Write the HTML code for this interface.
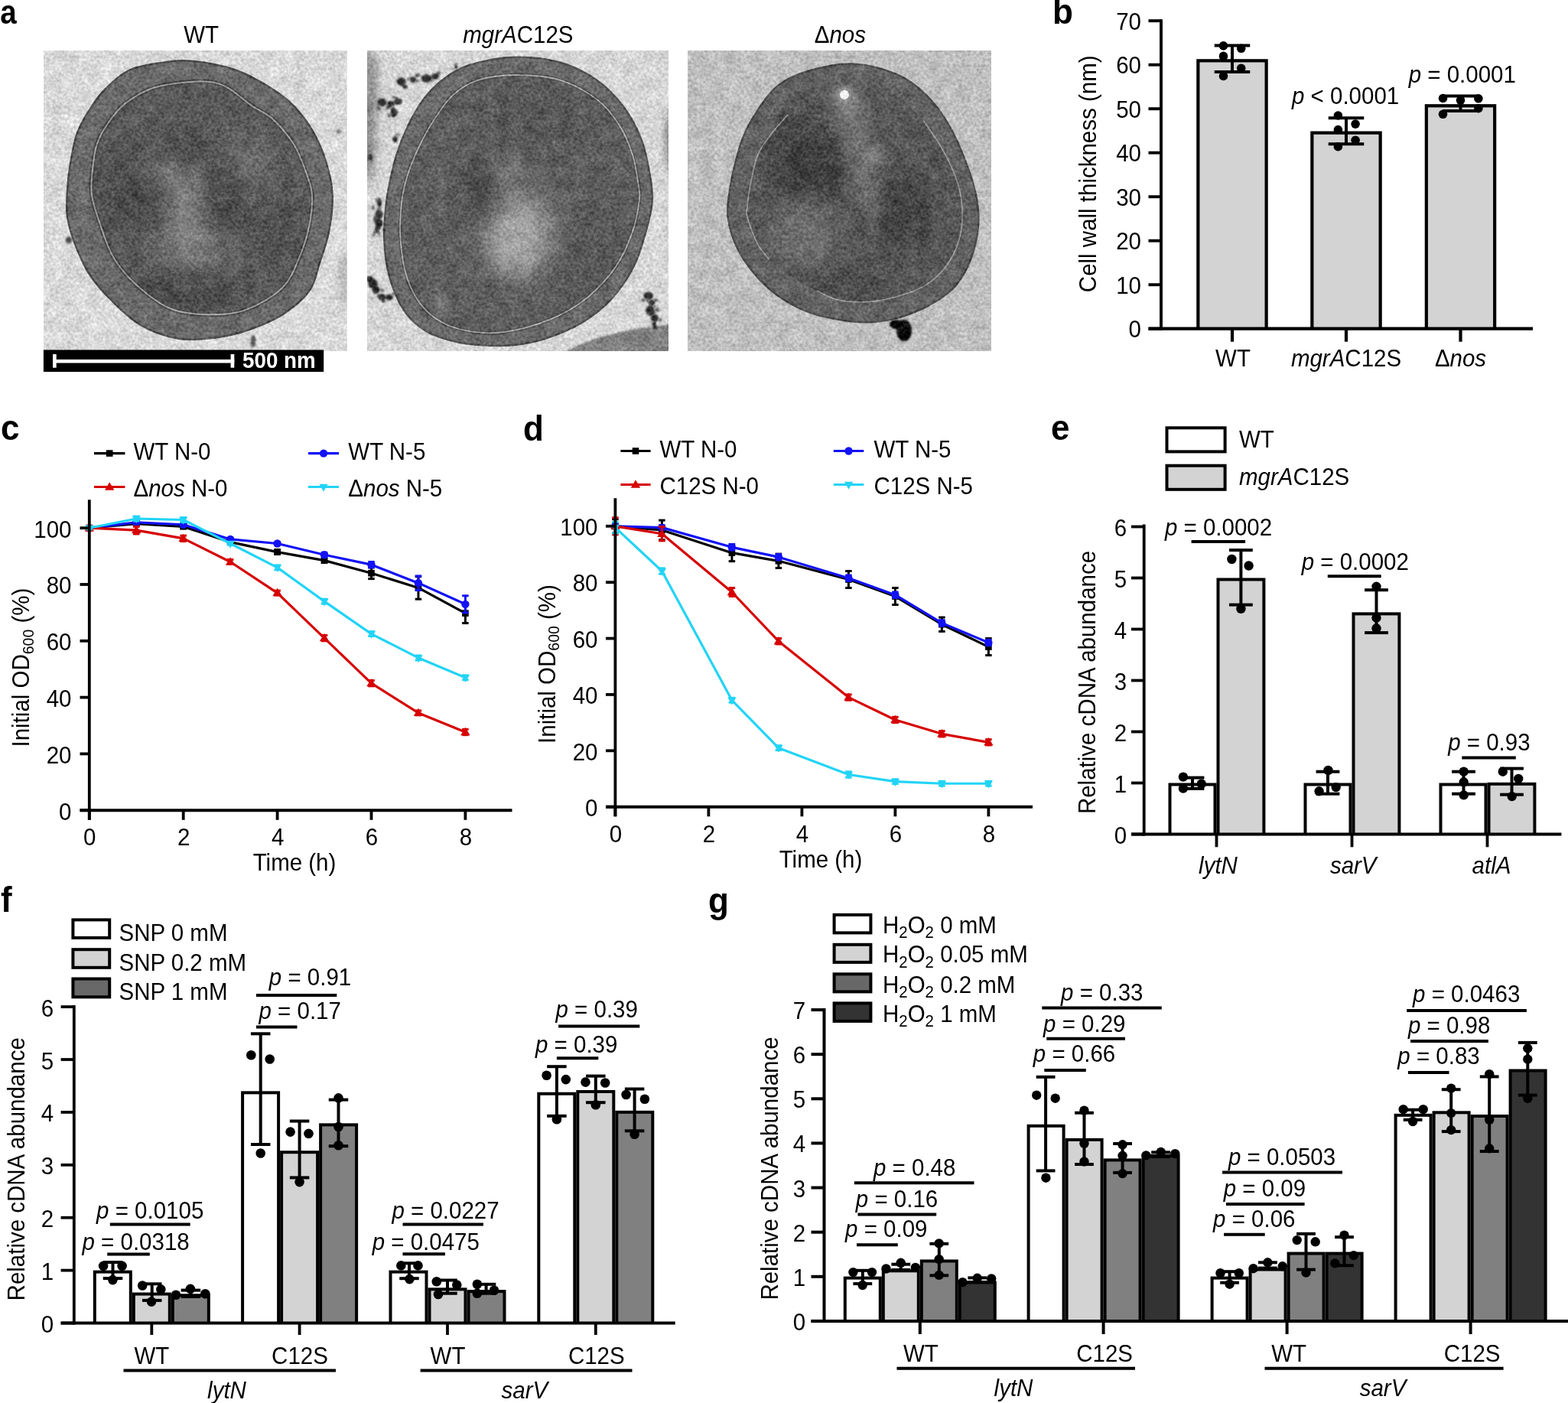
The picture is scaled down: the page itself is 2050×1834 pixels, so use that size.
<!DOCTYPE html><html><head><meta charset="utf-8"><title>Figure</title><style>html,body{margin:0;padding:0;background:#fff;overflow:hidden;width:2050px;height:1834px;}svg{display:block;}</style></head><body><svg width="2050" height="1834" viewBox="0 0 2050 1834" font-family="'Liberation Sans', Arial, sans-serif" font-size="29.5"><defs>
<filter id="tex" x="0" y="0" width="100%" height="100%" color-interpolation-filters="sRGB">
  <feTurbulence type="fractalNoise" baseFrequency="0.26" numOctaves="2" seed="7" result="n"/>
  <feColorMatrix in="n" type="matrix" values="1 0 0 0 0  1 0 0 0 0  1 0 0 0 0  0 0 0 0 1" result="ng"/>
  <feTurbulence type="fractalNoise" baseFrequency="0.06" numOctaves="2" seed="11" result="m"/>
  <feColorMatrix in="m" type="matrix" values="0 1 0 0 0  0 1 0 0 0  0 1 0 0 0  0 0 0 0 1" result="mg"/>
  <feComposite in="ng" in2="mg" operator="arithmetic" k1="0" k2="1" k3="0.5" k4="-0.25" result="nm"/>
  <feComposite in="SourceGraphic" in2="nm" operator="arithmetic" k1="0" k2="1" k3="0.32" k4="-0.16"/>
</filter>
<filter id="b6" x="-50%" y="-50%" width="200%" height="200%"><feGaussianBlur stdDeviation="6"/></filter>
<filter id="b12" x="-50%" y="-50%" width="200%" height="200%"><feGaussianBlur stdDeviation="12"/></filter>
<filter id="b20" x="-50%" y="-50%" width="200%" height="200%"><feGaussianBlur stdDeviation="20"/></filter>
<filter id="b2" x="-50%" y="-50%" width="200%" height="200%"><feGaussianBlur stdDeviation="1.2"/></filter>
<clipPath id="c1"><rect x="57" y="66" width="396.5" height="393"/></clipPath>
<clipPath id="c2"><rect x="480" y="66" width="394" height="393"/></clipPath>
<clipPath id="c3"><rect x="899" y="66" width="397" height="393"/></clipPath>
<clipPath id="ci1"><path d="M261,106.4 C245.65,106.58 218.95,109.35 202.7,114.2 C186.45,119.05 173.77,127.65 163.5,135.5 C153.23,143.35 147.27,152.33 141.1,161.3 C134.93,170.27 129.87,179.02 126.5,189.3 C123.13,199.58 121.98,212.05 120.9,223 C119.82,233.95 118.28,243.17 120,255 C121.72,266.83 126.42,280.33 131.2,294 C135.98,307.67 140.9,323.98 148.7,337 C156.5,350.02 165.63,361.03 178,372.1 C190.37,383.17 207.28,396.88 222.9,403.4 C238.52,409.92 255.43,410.88 271.7,411.2 C287.97,411.52 304.23,411.17 320.5,405.3 C336.77,399.43 357.27,388.03 369.3,376 C381.33,363.97 386.83,346.77 392.7,333.1 C398.57,319.43 401.95,307.02 404.5,294 C407.05,280.98 408.53,265.9 408,255 C407.47,244.1 405.22,239.55 401.3,228.6 C397.38,217.65 391.97,201.45 384.5,189.3 C377.03,177.15 365.83,164.3 356.5,155.7 C347.17,147.1 338.78,144.8 328.5,137.7 C318.22,130.6 306.05,118.32 294.8,113.1 C283.55,107.88 276.35,106.22 261,106.4Z"/></clipPath><clipPath id="ci2"><path d="M673.7,98 C655.95,98 638.85,100.35 625.3,104.7 C611.75,109.05 602.08,115.38 592.4,124.1 C582.72,132.82 574.63,145.7 567.2,157 C559.77,168.3 553.62,179.62 547.8,191.9 C541.98,204.18 536.1,218.52 532.3,230.7 C528.5,242.88 526.45,251.27 525,265 C523.55,278.73 522.38,296.68 523.6,313.1 C524.82,329.52 527.3,348.65 532.3,363.5 C537.3,378.35 544.57,391.87 553.6,402.2 C562.63,412.53 572.93,420 586.5,425.5 C600.07,431 618.85,434.57 635,435.2 C651.15,435.83 667.27,433.18 683.4,429.3 C699.53,425.42 717.27,419 731.8,411.9 C746.33,404.8 758.32,397.35 770.6,386.7 C782.88,376.05 796.13,361.88 805.5,348 C814.87,334.12 821.75,317.73 826.8,303.4 C831.85,289.07 834.52,272.52 835.8,262 C837.08,251.48 836,250.37 834.5,240.3 C833,230.23 831,214.5 826.8,201.6 C822.6,188.7 817.05,174.85 809.3,162.9 C801.55,150.95 793.22,139.6 780.3,129.9 C767.38,120.2 749.57,110.02 731.8,104.7 C714.03,99.38 691.45,98 673.7,98Z"/></clipPath><clipPath id="ci3"><path d="M1113.7,110 C1092.13,110.43 1053.17,113.72 1035.6,124.6 C1018.03,135.48 1015.78,162.3 1008.3,175.3 C1000.82,188.3 995.25,191.53 990.7,202.6 C986.15,213.67 983.27,230.47 981,241.7 C978.73,252.93 977.75,262.9 977.1,270 C976.45,277.1 974.83,276.07 977.1,284.3 C979.37,292.53 985.98,310.3 990.7,319.4 C995.42,328.5 998.02,331.8 1005.4,338.9 C1012.78,346 1024.1,354.83 1035,362 C1045.9,369.17 1060.93,376.97 1070.8,381.9 C1080.67,386.83 1083.8,389.48 1094.2,391.6 C1104.6,393.72 1120.18,395.25 1133.2,394.6 C1146.22,393.95 1159.28,391.45 1172.3,387.7 C1185.32,383.95 1199.92,379.58 1211.3,372.1 C1222.68,364.62 1233.12,354.18 1240.6,342.8 C1248.08,331.42 1253.47,317.27 1256.2,303.8 C1258.93,290.33 1258.37,274.63 1257,262 C1255.63,249.37 1252.37,239.52 1248,228 C1243.63,216.48 1237.57,204.62 1230.8,192.9 C1224.03,181.18 1218.37,169.52 1207.4,157.7 C1196.43,145.88 1180.62,129.95 1165,122 C1149.38,114.05 1135.27,109.57 1113.7,110Z"/></clipPath></defs><rect width="2050" height="1834" fill="#fff"/><text transform="translate(0.2 31.4) scale(0.875 1.011)" font-size="44" font-weight="bold">a</text>
<text transform="translate(1376 31) scale(1 1.04)" font-size="44" font-weight="bold">b</text>
<text transform="translate(1 574.5) scale(1 1.04)" font-size="44" font-weight="bold">c</text>
<text transform="translate(684 575.5) scale(1 1.04)" font-size="44" font-weight="bold">d</text>
<text transform="translate(1374 574.5) scale(1 1.04)" font-size="44" font-weight="bold">e</text>
<text transform="translate(1 1192) scale(1 1.04)" font-size="44" font-weight="bold">f</text>
<text transform="translate(926 1192.5) scale(1 1.04)" font-size="44" font-weight="bold">g</text>
<rect x="1564.25" y="77.23" width="93.5" height="352.47" fill="#000"/>
<rect x="1568.45" y="81.43" width="85.1" height="348.27" fill="#d3d3d3"/>
<rect x="1713.25" y="171.52" width="93.5" height="258.18" fill="#000"/>
<rect x="1717.45" y="175.72" width="85.1" height="253.98" fill="#d3d3d3"/>
<rect x="1862.75" y="136.16" width="93.5" height="293.54" fill="#000"/>
<rect x="1866.95" y="140.36" width="85.1" height="289.34" fill="#d3d3d3"/>
<line x1="1611" y1="93.9" x2="1611" y2="59.4" stroke="#000" stroke-width="4"/>
<line x1="1587.75" y1="93.9" x2="1634.25" y2="93.9" stroke="#000" stroke-width="4"/>
<line x1="1587.75" y1="59.4" x2="1634.25" y2="59.4" stroke="#000" stroke-width="4"/>
<line x1="1760" y1="188.2" x2="1760" y2="154.27" stroke="#000" stroke-width="4"/>
<line x1="1736.75" y1="188.2" x2="1783.25" y2="188.2" stroke="#000" stroke-width="4"/>
<line x1="1736.75" y1="154.27" x2="1783.25" y2="154.27" stroke="#000" stroke-width="4"/>
<line x1="1909.5" y1="145.07" x2="1909.5" y2="125.52" stroke="#000" stroke-width="4"/>
<line x1="1886.25" y1="145.07" x2="1932.75" y2="145.07" stroke="#000" stroke-width="4"/>
<line x1="1886.25" y1="125.52" x2="1932.75" y2="125.52" stroke="#000" stroke-width="4"/>
<circle cx="1599.5" cy="59.9" r="5.8" fill="#000"/>
<circle cx="1622.7" cy="63.3" r="5.8" fill="#000"/>
<circle cx="1599.5" cy="73.4" r="5.8" fill="#000"/>
<circle cx="1622.7" cy="89.2" r="5.8" fill="#000"/>
<circle cx="1599.5" cy="99.5" r="5.8" fill="#000"/>
<circle cx="1749.4" cy="151" r="5.8" fill="#000"/>
<circle cx="1772.1" cy="162.1" r="5.8" fill="#000"/>
<circle cx="1749.4" cy="169.6" r="5.8" fill="#000"/>
<circle cx="1772.1" cy="183.2" r="5.8" fill="#000"/>
<circle cx="1749.4" cy="191.7" r="5.8" fill="#000"/>
<circle cx="1886.5" cy="128.5" r="5.8" fill="#000"/>
<circle cx="1909.5" cy="131.1" r="5.8" fill="#000"/>
<circle cx="1932.9" cy="128.8" r="5.8" fill="#000"/>
<circle cx="1932.9" cy="141.7" r="5.8" fill="#000"/>
<circle cx="1886.5" cy="149.3" r="5.8" fill="#000"/>
<line x1="1518" y1="25.2" x2="1518" y2="431.7" stroke="#000" stroke-width="3.9"/>
<line x1="1501.5" y1="429.7" x2="2004" y2="429.7" stroke="#000" stroke-width="4.2"/>
<line x1="1501.5" y1="429.7" x2="1518" y2="429.7" stroke="#000" stroke-width="3.9"/>
<text transform="translate(1492 441.1) scale(1 1.04)" text-anchor="end">0</text>
<line x1="1501.5" y1="372.2" x2="1518" y2="372.2" stroke="#000" stroke-width="3.9"/>
<text transform="translate(1492 383.6) scale(1 1.04)" text-anchor="end">10</text>
<line x1="1501.5" y1="314.7" x2="1518" y2="314.7" stroke="#000" stroke-width="3.9"/>
<text transform="translate(1492 326.1) scale(1 1.04)" text-anchor="end">20</text>
<line x1="1501.5" y1="257.2" x2="1518" y2="257.2" stroke="#000" stroke-width="3.9"/>
<text transform="translate(1492 268.6) scale(1 1.04)" text-anchor="end">30</text>
<line x1="1501.5" y1="199.7" x2="1518" y2="199.7" stroke="#000" stroke-width="3.9"/>
<text transform="translate(1492 211.1) scale(1 1.04)" text-anchor="end">40</text>
<line x1="1501.5" y1="142.2" x2="1518" y2="142.2" stroke="#000" stroke-width="3.9"/>
<text transform="translate(1492 153.6) scale(1 1.04)" text-anchor="end">50</text>
<line x1="1501.5" y1="84.7" x2="1518" y2="84.7" stroke="#000" stroke-width="3.9"/>
<text transform="translate(1492 96.1) scale(1 1.04)" text-anchor="end">60</text>
<line x1="1501.5" y1="27.2" x2="1518" y2="27.2" stroke="#000" stroke-width="3.9"/>
<text transform="translate(1492 38.6) scale(1 1.04)" text-anchor="end">70</text>
<line x1="1611" y1="429.7" x2="1611" y2="446.7" stroke="#000" stroke-width="4.2"/>
<line x1="1760" y1="429.7" x2="1760" y2="446.7" stroke="#000" stroke-width="4.2"/>
<line x1="1909.5" y1="429.7" x2="1909.5" y2="446.7" stroke="#000" stroke-width="4.2"/>
<text transform="translate(1612 478.5) scale(1 1.04)" text-anchor="middle">WT</text>
<text transform="translate(1760 478.5) scale(1 1.04)" text-anchor="middle"><tspan font-style="italic">mgrA</tspan>C12S</text>
<text transform="translate(1909.5 478.5) scale(1 1.04)" text-anchor="middle">Δ<tspan font-style="italic">nos</tspan></text>
<text transform="translate(1433 227.3) rotate(-90) scale(1 1.04)" text-anchor="middle">Cell wall thickness (nm)</text>
<text transform="translate(1689 135.5) scale(1 1.04)"><tspan font-style="italic">p</tspan> &lt; 0.0001</text>
<text transform="translate(1841.7 107.9) scale(1 1.04)"><tspan font-style="italic">p</tspan> = 0.0001</text>
<polyline points="116.8,690.2 178.25,684.67 239.7,688.36 301.15,708.65 362.6,721.57 424.05,732.63 485.5,749.24 546.95,768.43 608.4,801.64" fill="none" stroke="#000" stroke-width="3.2" stroke-linejoin="round"/>
<line x1="178.25" y1="686.51" x2="178.25" y2="682.82" stroke="#000" stroke-width="3"/>
<line x1="174" y1="682.82" x2="182.5" y2="682.82" stroke="#000" stroke-width="3"/>
<line x1="174" y1="686.51" x2="182.5" y2="686.51" stroke="#000" stroke-width="3"/>
<line x1="239.7" y1="690.2" x2="239.7" y2="686.51" stroke="#000" stroke-width="3"/>
<line x1="235.45" y1="686.51" x2="243.95" y2="686.51" stroke="#000" stroke-width="3"/>
<line x1="235.45" y1="690.2" x2="243.95" y2="690.2" stroke="#000" stroke-width="3"/>
<line x1="301.15" y1="710.5" x2="301.15" y2="706.81" stroke="#000" stroke-width="3"/>
<line x1="296.9" y1="706.81" x2="305.4" y2="706.81" stroke="#000" stroke-width="3"/>
<line x1="296.9" y1="710.5" x2="305.4" y2="710.5" stroke="#000" stroke-width="3"/>
<line x1="362.6" y1="724.52" x2="362.6" y2="718.61" stroke="#000" stroke-width="3"/>
<line x1="358.35" y1="718.61" x2="366.85" y2="718.61" stroke="#000" stroke-width="3"/>
<line x1="358.35" y1="724.52" x2="366.85" y2="724.52" stroke="#000" stroke-width="3"/>
<line x1="424.05" y1="735.59" x2="424.05" y2="729.68" stroke="#000" stroke-width="3"/>
<line x1="419.8" y1="729.68" x2="428.3" y2="729.68" stroke="#000" stroke-width="3"/>
<line x1="419.8" y1="735.59" x2="428.3" y2="735.59" stroke="#000" stroke-width="3"/>
<line x1="485.5" y1="756.62" x2="485.5" y2="741.86" stroke="#000" stroke-width="3"/>
<line x1="481.25" y1="741.86" x2="489.75" y2="741.86" stroke="#000" stroke-width="3"/>
<line x1="481.25" y1="756.62" x2="489.75" y2="756.62" stroke="#000" stroke-width="3"/>
<line x1="546.95" y1="783.19" x2="546.95" y2="753.67" stroke="#000" stroke-width="3"/>
<line x1="542.7" y1="753.67" x2="551.2" y2="753.67" stroke="#000" stroke-width="3"/>
<line x1="542.7" y1="783.19" x2="551.2" y2="783.19" stroke="#000" stroke-width="3"/>
<line x1="608.4" y1="814.55" x2="608.4" y2="788.72" stroke="#000" stroke-width="3"/>
<line x1="604.15" y1="788.72" x2="612.65" y2="788.72" stroke="#000" stroke-width="3"/>
<line x1="604.15" y1="814.55" x2="612.65" y2="814.55" stroke="#000" stroke-width="3"/>
<rect x="112.5" y="685.9" width="8.6" height="8.6" fill="#000"/>
<rect x="173.95" y="680.37" width="8.6" height="8.6" fill="#000"/>
<rect x="235.4" y="684.06" width="8.6" height="8.6" fill="#000"/>
<rect x="296.85" y="704.35" width="8.6" height="8.6" fill="#000"/>
<rect x="358.3" y="717.27" width="8.6" height="8.6" fill="#000"/>
<rect x="419.75" y="728.34" width="8.6" height="8.6" fill="#000"/>
<rect x="481.2" y="744.94" width="8.6" height="8.6" fill="#000"/>
<rect x="542.65" y="764.13" width="8.6" height="8.6" fill="#000"/>
<rect x="604.1" y="797.34" width="8.6" height="8.6" fill="#000"/>
<polyline points="116.8,690.2 178.25,682.82 239.7,685.77 301.15,704.96 362.6,710.5 424.05,725.26 485.5,738.17 546.95,762.15 608.4,789.83" fill="none" stroke="#1212f5" stroke-width="3.2" stroke-linejoin="round"/>
<line x1="178.25" y1="684.67" x2="178.25" y2="680.98" stroke="#1212f5" stroke-width="3"/>
<line x1="174" y1="680.98" x2="182.5" y2="680.98" stroke="#1212f5" stroke-width="3"/>
<line x1="174" y1="684.67" x2="182.5" y2="684.67" stroke="#1212f5" stroke-width="3"/>
<line x1="239.7" y1="687.62" x2="239.7" y2="683.93" stroke="#1212f5" stroke-width="3"/>
<line x1="235.45" y1="683.93" x2="243.95" y2="683.93" stroke="#1212f5" stroke-width="3"/>
<line x1="235.45" y1="687.62" x2="243.95" y2="687.62" stroke="#1212f5" stroke-width="3"/>
<line x1="301.15" y1="706.81" x2="301.15" y2="703.12" stroke="#1212f5" stroke-width="3"/>
<line x1="296.9" y1="703.12" x2="305.4" y2="703.12" stroke="#1212f5" stroke-width="3"/>
<line x1="296.9" y1="706.81" x2="305.4" y2="706.81" stroke="#1212f5" stroke-width="3"/>
<line x1="362.6" y1="712.34" x2="362.6" y2="708.65" stroke="#1212f5" stroke-width="3"/>
<line x1="358.35" y1="708.65" x2="366.85" y2="708.65" stroke="#1212f5" stroke-width="3"/>
<line x1="358.35" y1="712.34" x2="366.85" y2="712.34" stroke="#1212f5" stroke-width="3"/>
<line x1="424.05" y1="728.21" x2="424.05" y2="722.3" stroke="#1212f5" stroke-width="3"/>
<line x1="419.8" y1="722.3" x2="428.3" y2="722.3" stroke="#1212f5" stroke-width="3"/>
<line x1="419.8" y1="728.21" x2="428.3" y2="728.21" stroke="#1212f5" stroke-width="3"/>
<line x1="485.5" y1="741.86" x2="485.5" y2="734.48" stroke="#1212f5" stroke-width="3"/>
<line x1="481.25" y1="734.48" x2="489.75" y2="734.48" stroke="#1212f5" stroke-width="3"/>
<line x1="481.25" y1="741.86" x2="489.75" y2="741.86" stroke="#1212f5" stroke-width="3"/>
<line x1="546.95" y1="771.38" x2="546.95" y2="752.93" stroke="#1212f5" stroke-width="3"/>
<line x1="542.7" y1="752.93" x2="551.2" y2="752.93" stroke="#1212f5" stroke-width="3"/>
<line x1="542.7" y1="771.38" x2="551.2" y2="771.38" stroke="#1212f5" stroke-width="3"/>
<line x1="608.4" y1="800.9" x2="608.4" y2="778.76" stroke="#1212f5" stroke-width="3"/>
<line x1="604.15" y1="778.76" x2="612.65" y2="778.76" stroke="#1212f5" stroke-width="3"/>
<line x1="604.15" y1="800.9" x2="612.65" y2="800.9" stroke="#1212f5" stroke-width="3"/>
<circle cx="116.8" cy="690.2" r="5.2" fill="#1212f5"/>
<circle cx="178.25" cy="682.82" r="5.2" fill="#1212f5"/>
<circle cx="239.7" cy="685.77" r="5.2" fill="#1212f5"/>
<circle cx="301.15" cy="704.96" r="5.2" fill="#1212f5"/>
<circle cx="362.6" cy="710.5" r="5.2" fill="#1212f5"/>
<circle cx="424.05" cy="725.26" r="5.2" fill="#1212f5"/>
<circle cx="485.5" cy="738.17" r="5.2" fill="#1212f5"/>
<circle cx="546.95" cy="762.15" r="5.2" fill="#1212f5"/>
<circle cx="608.4" cy="789.83" r="5.2" fill="#1212f5"/>
<polyline points="116.8,690.2 178.25,693.15 239.7,703.85 301.15,734.48 362.6,775.07 424.05,834.11 485.5,893.15 546.95,931.9 608.4,956.99" fill="none" stroke="#d60000" stroke-width="3.2" stroke-linejoin="round"/>
<line x1="116.8" y1="693.15" x2="116.8" y2="687.25" stroke="#d60000" stroke-width="3"/>
<line x1="112.55" y1="687.25" x2="121.05" y2="687.25" stroke="#d60000" stroke-width="3"/>
<line x1="112.55" y1="693.15" x2="121.05" y2="693.15" stroke="#d60000" stroke-width="3"/>
<line x1="178.25" y1="697.95" x2="178.25" y2="688.36" stroke="#d60000" stroke-width="3"/>
<line x1="174" y1="688.36" x2="182.5" y2="688.36" stroke="#d60000" stroke-width="3"/>
<line x1="174" y1="697.95" x2="182.5" y2="697.95" stroke="#d60000" stroke-width="3"/>
<line x1="239.7" y1="707.54" x2="239.7" y2="700.16" stroke="#d60000" stroke-width="3"/>
<line x1="235.45" y1="700.16" x2="243.95" y2="700.16" stroke="#d60000" stroke-width="3"/>
<line x1="235.45" y1="707.54" x2="243.95" y2="707.54" stroke="#d60000" stroke-width="3"/>
<line x1="301.15" y1="737.43" x2="301.15" y2="731.53" stroke="#d60000" stroke-width="3"/>
<line x1="296.9" y1="731.53" x2="305.4" y2="731.53" stroke="#d60000" stroke-width="3"/>
<line x1="296.9" y1="737.43" x2="305.4" y2="737.43" stroke="#d60000" stroke-width="3"/>
<line x1="362.6" y1="778.02" x2="362.6" y2="772.12" stroke="#d60000" stroke-width="3"/>
<line x1="358.35" y1="772.12" x2="366.85" y2="772.12" stroke="#d60000" stroke-width="3"/>
<line x1="358.35" y1="778.02" x2="366.85" y2="778.02" stroke="#d60000" stroke-width="3"/>
<line x1="424.05" y1="837.8" x2="424.05" y2="830.42" stroke="#d60000" stroke-width="3"/>
<line x1="419.8" y1="830.42" x2="428.3" y2="830.42" stroke="#d60000" stroke-width="3"/>
<line x1="419.8" y1="837.8" x2="428.3" y2="837.8" stroke="#d60000" stroke-width="3"/>
<line x1="485.5" y1="896.84" x2="485.5" y2="889.46" stroke="#d60000" stroke-width="3"/>
<line x1="481.25" y1="889.46" x2="489.75" y2="889.46" stroke="#d60000" stroke-width="3"/>
<line x1="481.25" y1="896.84" x2="489.75" y2="896.84" stroke="#d60000" stroke-width="3"/>
<line x1="546.95" y1="934.85" x2="546.95" y2="928.94" stroke="#d60000" stroke-width="3"/>
<line x1="542.7" y1="928.94" x2="551.2" y2="928.94" stroke="#d60000" stroke-width="3"/>
<line x1="542.7" y1="934.85" x2="551.2" y2="934.85" stroke="#d60000" stroke-width="3"/>
<line x1="608.4" y1="960.68" x2="608.4" y2="953.3" stroke="#d60000" stroke-width="3"/>
<line x1="604.15" y1="953.3" x2="612.65" y2="953.3" stroke="#d60000" stroke-width="3"/>
<line x1="604.15" y1="960.68" x2="612.65" y2="960.68" stroke="#d60000" stroke-width="3"/>
<polygon points="116.8,684 123,694.4 110.6,694.4" fill="#d60000"/>
<polygon points="178.25,686.95 184.45,697.35 172.05,697.35" fill="#d60000"/>
<polygon points="239.7,697.65 245.9,708.05 233.5,708.05" fill="#d60000"/>
<polygon points="301.15,728.28 307.35,738.68 294.95,738.68" fill="#d60000"/>
<polygon points="362.6,768.87 368.8,779.27 356.4,779.27" fill="#d60000"/>
<polygon points="424.05,827.91 430.25,838.31 417.85,838.31" fill="#d60000"/>
<polygon points="485.5,886.95 491.7,897.35 479.3,897.35" fill="#d60000"/>
<polygon points="546.95,925.7 553.15,936.1 540.75,936.1" fill="#d60000"/>
<polygon points="608.4,950.79 614.6,961.19 602.2,961.19" fill="#d60000"/>
<polyline points="116.8,690.2 178.25,678.02 239.7,679.5 301.15,710.5 362.6,741.86 424.05,786.14 485.5,828.58 546.95,859.94 608.4,885.77" fill="none" stroke="#22d4f6" stroke-width="3.2" stroke-linejoin="round"/>
<line x1="116.8" y1="692.05" x2="116.8" y2="688.36" stroke="#22d4f6" stroke-width="3"/>
<line x1="112.55" y1="688.36" x2="121.05" y2="688.36" stroke="#22d4f6" stroke-width="3"/>
<line x1="112.55" y1="692.05" x2="121.05" y2="692.05" stroke="#22d4f6" stroke-width="3"/>
<line x1="178.25" y1="680.98" x2="178.25" y2="675.07" stroke="#22d4f6" stroke-width="3"/>
<line x1="174" y1="675.07" x2="182.5" y2="675.07" stroke="#22d4f6" stroke-width="3"/>
<line x1="174" y1="680.98" x2="182.5" y2="680.98" stroke="#22d4f6" stroke-width="3"/>
<line x1="239.7" y1="682.45" x2="239.7" y2="676.55" stroke="#22d4f6" stroke-width="3"/>
<line x1="235.45" y1="676.55" x2="243.95" y2="676.55" stroke="#22d4f6" stroke-width="3"/>
<line x1="235.45" y1="682.45" x2="243.95" y2="682.45" stroke="#22d4f6" stroke-width="3"/>
<line x1="301.15" y1="712.34" x2="301.15" y2="708.65" stroke="#22d4f6" stroke-width="3"/>
<line x1="296.9" y1="708.65" x2="305.4" y2="708.65" stroke="#22d4f6" stroke-width="3"/>
<line x1="296.9" y1="712.34" x2="305.4" y2="712.34" stroke="#22d4f6" stroke-width="3"/>
<line x1="362.6" y1="744.81" x2="362.6" y2="738.91" stroke="#22d4f6" stroke-width="3"/>
<line x1="358.35" y1="738.91" x2="366.85" y2="738.91" stroke="#22d4f6" stroke-width="3"/>
<line x1="358.35" y1="744.81" x2="366.85" y2="744.81" stroke="#22d4f6" stroke-width="3"/>
<line x1="424.05" y1="789.09" x2="424.05" y2="783.19" stroke="#22d4f6" stroke-width="3"/>
<line x1="419.8" y1="783.19" x2="428.3" y2="783.19" stroke="#22d4f6" stroke-width="3"/>
<line x1="419.8" y1="789.09" x2="428.3" y2="789.09" stroke="#22d4f6" stroke-width="3"/>
<line x1="485.5" y1="831.53" x2="485.5" y2="825.62" stroke="#22d4f6" stroke-width="3"/>
<line x1="481.25" y1="825.62" x2="489.75" y2="825.62" stroke="#22d4f6" stroke-width="3"/>
<line x1="481.25" y1="831.53" x2="489.75" y2="831.53" stroke="#22d4f6" stroke-width="3"/>
<line x1="546.95" y1="862.89" x2="546.95" y2="856.99" stroke="#22d4f6" stroke-width="3"/>
<line x1="542.7" y1="856.99" x2="551.2" y2="856.99" stroke="#22d4f6" stroke-width="3"/>
<line x1="542.7" y1="862.89" x2="551.2" y2="862.89" stroke="#22d4f6" stroke-width="3"/>
<line x1="608.4" y1="888.72" x2="608.4" y2="882.82" stroke="#22d4f6" stroke-width="3"/>
<line x1="604.15" y1="882.82" x2="612.65" y2="882.82" stroke="#22d4f6" stroke-width="3"/>
<line x1="604.15" y1="888.72" x2="612.65" y2="888.72" stroke="#22d4f6" stroke-width="3"/>
<polygon points="116.8,696.4 122.4,686.4 111.2,686.4" fill="#22d4f6"/>
<polygon points="178.25,684.22 183.85,674.22 172.65,674.22" fill="#22d4f6"/>
<polygon points="239.7,685.7 245.3,675.7 234.1,675.7" fill="#22d4f6"/>
<polygon points="301.15,716.7 306.75,706.7 295.55,706.7" fill="#22d4f6"/>
<polygon points="362.6,748.06 368.2,738.06 357,738.06" fill="#22d4f6"/>
<polygon points="424.05,792.34 429.65,782.34 418.45,782.34" fill="#22d4f6"/>
<polygon points="485.5,834.78 491.1,824.78 479.9,824.78" fill="#22d4f6"/>
<polygon points="546.95,866.14 552.55,856.14 541.35,856.14" fill="#22d4f6"/>
<polygon points="608.4,891.97 614,881.97 602.8,881.97" fill="#22d4f6"/>
<line x1="116.8" y1="653.3" x2="116.8" y2="1071.8" stroke="#000" stroke-width="3.8"/>
<line x1="104.5" y1="1059.2" x2="669.5" y2="1059.2" stroke="#000" stroke-width="4"/>
<line x1="104.5" y1="1059.2" x2="116.8" y2="1059.2" stroke="#000" stroke-width="3.8"/>
<text transform="translate(93.5 1071.6) scale(1 1.04)" text-anchor="end">0</text>
<line x1="104.5" y1="985.4" x2="116.8" y2="985.4" stroke="#000" stroke-width="3.8"/>
<text transform="translate(93.5 997.8) scale(1 1.04)" text-anchor="end">20</text>
<line x1="104.5" y1="911.6" x2="116.8" y2="911.6" stroke="#000" stroke-width="3.8"/>
<text transform="translate(93.5 924) scale(1 1.04)" text-anchor="end">40</text>
<line x1="104.5" y1="837.8" x2="116.8" y2="837.8" stroke="#000" stroke-width="3.8"/>
<text transform="translate(93.5 850.2) scale(1 1.04)" text-anchor="end">60</text>
<line x1="104.5" y1="764" x2="116.8" y2="764" stroke="#000" stroke-width="3.8"/>
<text transform="translate(93.5 776.4) scale(1 1.04)" text-anchor="end">80</text>
<line x1="104.5" y1="690.2" x2="116.8" y2="690.2" stroke="#000" stroke-width="3.8"/>
<text transform="translate(93.5 702.6) scale(1 1.04)" text-anchor="end">100</text>
<line x1="116.8" y1="1059.2" x2="116.8" y2="1071.8" stroke="#000" stroke-width="3.8"/>
<text transform="translate(117.3 1105) scale(1 1.04)" text-anchor="middle">0</text>
<line x1="239.7" y1="1059.2" x2="239.7" y2="1071.8" stroke="#000" stroke-width="3.8"/>
<text transform="translate(240.2 1105) scale(1 1.04)" text-anchor="middle">2</text>
<line x1="362.6" y1="1059.2" x2="362.6" y2="1071.8" stroke="#000" stroke-width="3.8"/>
<text transform="translate(363.1 1105) scale(1 1.04)" text-anchor="middle">4</text>
<line x1="485.5" y1="1059.2" x2="485.5" y2="1071.8" stroke="#000" stroke-width="3.8"/>
<text transform="translate(486 1105) scale(1 1.04)" text-anchor="middle">6</text>
<line x1="608.4" y1="1059.2" x2="608.4" y2="1071.8" stroke="#000" stroke-width="3.8"/>
<text transform="translate(608.9 1105) scale(1 1.04)" text-anchor="middle">8</text>
<text transform="translate(385 1138) scale(1 1.04)" text-anchor="middle">Time (h)</text>
<text transform="translate(38 872.6) rotate(-90) scale(1 1.04)" text-anchor="middle">Initial OD<tspan font-size="19.5" dy="5.5">600</tspan><tspan dy="-5.5"> (%)</tspan></text>
<line x1="123" y1="592.6" x2="163.4" y2="592.6" stroke="#000" stroke-width="3.2"/>
<rect x="138.9" y="588.3" width="8.6" height="8.6" fill="#000"/>
<text transform="translate(174.5 601.3) scale(1 1.04)">WT N-0</text>
<line x1="403" y1="592.6" x2="443.1" y2="592.6" stroke="#1212f5" stroke-width="3.2"/>
<circle cx="423.05" cy="592.6" r="5.2" fill="#1212f5"/>
<text transform="translate(455.3 601.3) scale(1 1.04)">WT N-5</text>
<line x1="123" y1="636.5" x2="163.4" y2="636.5" stroke="#d60000" stroke-width="3.2"/>
<polygon points="143.2,630.3 149.4,640.7 137,640.7" fill="#d60000"/>
<text transform="translate(174.5 649.2) scale(1 1.04)">Δ<tspan font-style="italic">nos</tspan> N-0</text>
<line x1="403" y1="636.5" x2="443.1" y2="636.5" stroke="#22d4f6" stroke-width="3.2"/>
<polygon points="423.05,642.7 428.65,632.7 417.45,632.7" fill="#22d4f6"/>
<text transform="translate(455.3 649.2) scale(1 1.04)">Δ<tspan font-style="italic">nos</tspan> N-5</text>
<polyline points="804.4,687.8 865.4,692.94 956.9,722.66 1017.9,733.3 1109.4,757.51 1170.4,779.53 1231.4,816.22 1292.4,845.57" fill="none" stroke="#000" stroke-width="3.2" stroke-linejoin="round"/>
<line x1="804.4" y1="696.97" x2="804.4" y2="678.63" stroke="#000" stroke-width="3"/>
<line x1="800.15" y1="678.63" x2="808.65" y2="678.63" stroke="#000" stroke-width="3"/>
<line x1="800.15" y1="696.97" x2="808.65" y2="696.97" stroke="#000" stroke-width="3"/>
<line x1="865.4" y1="705.78" x2="865.4" y2="680.1" stroke="#000" stroke-width="3"/>
<line x1="861.15" y1="680.1" x2="869.65" y2="680.1" stroke="#000" stroke-width="3"/>
<line x1="861.15" y1="705.78" x2="869.65" y2="705.78" stroke="#000" stroke-width="3"/>
<line x1="956.9" y1="733.66" x2="956.9" y2="711.65" stroke="#000" stroke-width="3"/>
<line x1="952.65" y1="711.65" x2="961.15" y2="711.65" stroke="#000" stroke-width="3"/>
<line x1="952.65" y1="733.66" x2="961.15" y2="733.66" stroke="#000" stroke-width="3"/>
<line x1="1017.9" y1="742.47" x2="1017.9" y2="724.12" stroke="#000" stroke-width="3"/>
<line x1="1013.65" y1="724.12" x2="1022.15" y2="724.12" stroke="#000" stroke-width="3"/>
<line x1="1013.65" y1="742.47" x2="1022.15" y2="742.47" stroke="#000" stroke-width="3"/>
<line x1="1109.4" y1="768.52" x2="1109.4" y2="746.5" stroke="#000" stroke-width="3"/>
<line x1="1105.15" y1="746.5" x2="1113.65" y2="746.5" stroke="#000" stroke-width="3"/>
<line x1="1105.15" y1="768.52" x2="1113.65" y2="768.52" stroke="#000" stroke-width="3"/>
<line x1="1170.4" y1="790.53" x2="1170.4" y2="768.52" stroke="#000" stroke-width="3"/>
<line x1="1166.15" y1="768.52" x2="1174.65" y2="768.52" stroke="#000" stroke-width="3"/>
<line x1="1166.15" y1="790.53" x2="1174.65" y2="790.53" stroke="#000" stroke-width="3"/>
<line x1="1231.4" y1="825.39" x2="1231.4" y2="807.04" stroke="#000" stroke-width="3"/>
<line x1="1227.15" y1="807.04" x2="1235.65" y2="807.04" stroke="#000" stroke-width="3"/>
<line x1="1227.15" y1="825.39" x2="1235.65" y2="825.39" stroke="#000" stroke-width="3"/>
<line x1="1292.4" y1="856.57" x2="1292.4" y2="834.56" stroke="#000" stroke-width="3"/>
<line x1="1288.15" y1="834.56" x2="1296.65" y2="834.56" stroke="#000" stroke-width="3"/>
<line x1="1288.15" y1="856.57" x2="1296.65" y2="856.57" stroke="#000" stroke-width="3"/>
<rect x="800.1" y="683.5" width="8.6" height="8.6" fill="#000"/>
<rect x="861.1" y="688.64" width="8.6" height="8.6" fill="#000"/>
<rect x="952.6" y="718.36" width="8.6" height="8.6" fill="#000"/>
<rect x="1013.6" y="729" width="8.6" height="8.6" fill="#000"/>
<rect x="1105.1" y="753.21" width="8.6" height="8.6" fill="#000"/>
<rect x="1166.1" y="775.23" width="8.6" height="8.6" fill="#000"/>
<rect x="1227.1" y="811.92" width="8.6" height="8.6" fill="#000"/>
<rect x="1288.1" y="841.27" width="8.6" height="8.6" fill="#000"/>
<polyline points="804.4,687.8 865.4,689.63 956.9,715.32 1017.9,728.16 1109.4,755.68 1170.4,777.69 1231.4,814.38 1292.4,840.06" fill="none" stroke="#1212f5" stroke-width="3.2" stroke-linejoin="round"/>
<line x1="804.4" y1="690.74" x2="804.4" y2="684.86" stroke="#1212f5" stroke-width="3"/>
<line x1="800.15" y1="684.86" x2="808.65" y2="684.86" stroke="#1212f5" stroke-width="3"/>
<line x1="800.15" y1="690.74" x2="808.65" y2="690.74" stroke="#1212f5" stroke-width="3"/>
<line x1="865.4" y1="692.57" x2="865.4" y2="686.7" stroke="#1212f5" stroke-width="3"/>
<line x1="861.15" y1="686.7" x2="869.65" y2="686.7" stroke="#1212f5" stroke-width="3"/>
<line x1="861.15" y1="692.57" x2="869.65" y2="692.57" stroke="#1212f5" stroke-width="3"/>
<line x1="956.9" y1="718.99" x2="956.9" y2="711.65" stroke="#1212f5" stroke-width="3"/>
<line x1="952.65" y1="711.65" x2="961.15" y2="711.65" stroke="#1212f5" stroke-width="3"/>
<line x1="952.65" y1="718.99" x2="961.15" y2="718.99" stroke="#1212f5" stroke-width="3"/>
<line x1="1017.9" y1="731.83" x2="1017.9" y2="724.49" stroke="#1212f5" stroke-width="3"/>
<line x1="1013.65" y1="724.49" x2="1022.15" y2="724.49" stroke="#1212f5" stroke-width="3"/>
<line x1="1013.65" y1="731.83" x2="1022.15" y2="731.83" stroke="#1212f5" stroke-width="3"/>
<line x1="1109.4" y1="759.35" x2="1109.4" y2="752.01" stroke="#1212f5" stroke-width="3"/>
<line x1="1105.15" y1="752.01" x2="1113.65" y2="752.01" stroke="#1212f5" stroke-width="3"/>
<line x1="1105.15" y1="759.35" x2="1113.65" y2="759.35" stroke="#1212f5" stroke-width="3"/>
<line x1="1170.4" y1="781.36" x2="1170.4" y2="774.02" stroke="#1212f5" stroke-width="3"/>
<line x1="1166.15" y1="774.02" x2="1174.65" y2="774.02" stroke="#1212f5" stroke-width="3"/>
<line x1="1166.15" y1="781.36" x2="1174.65" y2="781.36" stroke="#1212f5" stroke-width="3"/>
<line x1="1231.4" y1="818.05" x2="1231.4" y2="810.71" stroke="#1212f5" stroke-width="3"/>
<line x1="1227.15" y1="810.71" x2="1235.65" y2="810.71" stroke="#1212f5" stroke-width="3"/>
<line x1="1227.15" y1="818.05" x2="1235.65" y2="818.05" stroke="#1212f5" stroke-width="3"/>
<line x1="1292.4" y1="843.73" x2="1292.4" y2="836.39" stroke="#1212f5" stroke-width="3"/>
<line x1="1288.15" y1="836.39" x2="1296.65" y2="836.39" stroke="#1212f5" stroke-width="3"/>
<line x1="1288.15" y1="843.73" x2="1296.65" y2="843.73" stroke="#1212f5" stroke-width="3"/>
<circle cx="804.4" cy="687.8" r="5.2" fill="#1212f5"/>
<circle cx="865.4" cy="689.63" r="5.2" fill="#1212f5"/>
<circle cx="956.9" cy="715.32" r="5.2" fill="#1212f5"/>
<circle cx="1017.9" cy="728.16" r="5.2" fill="#1212f5"/>
<circle cx="1109.4" cy="755.68" r="5.2" fill="#1212f5"/>
<circle cx="1170.4" cy="777.69" r="5.2" fill="#1212f5"/>
<circle cx="1231.4" cy="814.38" r="5.2" fill="#1212f5"/>
<circle cx="1292.4" cy="840.06" r="5.2" fill="#1212f5"/>
<polyline points="804.4,687.8 865.4,697.71 956.9,774.02 1017.9,838.23 1109.4,911.61 1170.4,940.96 1231.4,959.31 1292.4,970.31" fill="none" stroke="#d60000" stroke-width="3.2" stroke-linejoin="round"/>
<line x1="804.4" y1="698.81" x2="804.4" y2="676.79" stroke="#d60000" stroke-width="3"/>
<line x1="800.15" y1="676.79" x2="808.65" y2="676.79" stroke="#d60000" stroke-width="3"/>
<line x1="800.15" y1="698.81" x2="808.65" y2="698.81" stroke="#d60000" stroke-width="3"/>
<line x1="865.4" y1="706.88" x2="865.4" y2="688.53" stroke="#d60000" stroke-width="3"/>
<line x1="861.15" y1="688.53" x2="869.65" y2="688.53" stroke="#d60000" stroke-width="3"/>
<line x1="861.15" y1="706.88" x2="869.65" y2="706.88" stroke="#d60000" stroke-width="3"/>
<line x1="956.9" y1="779.53" x2="956.9" y2="768.52" stroke="#d60000" stroke-width="3"/>
<line x1="952.65" y1="768.52" x2="961.15" y2="768.52" stroke="#d60000" stroke-width="3"/>
<line x1="952.65" y1="779.53" x2="961.15" y2="779.53" stroke="#d60000" stroke-width="3"/>
<line x1="1017.9" y1="841.9" x2="1017.9" y2="834.56" stroke="#d60000" stroke-width="3"/>
<line x1="1013.65" y1="834.56" x2="1022.15" y2="834.56" stroke="#d60000" stroke-width="3"/>
<line x1="1013.65" y1="841.9" x2="1022.15" y2="841.9" stroke="#d60000" stroke-width="3"/>
<line x1="1109.4" y1="915.28" x2="1109.4" y2="907.94" stroke="#d60000" stroke-width="3"/>
<line x1="1105.15" y1="907.94" x2="1113.65" y2="907.94" stroke="#d60000" stroke-width="3"/>
<line x1="1105.15" y1="915.28" x2="1113.65" y2="915.28" stroke="#d60000" stroke-width="3"/>
<line x1="1170.4" y1="944.63" x2="1170.4" y2="937.29" stroke="#d60000" stroke-width="3"/>
<line x1="1166.15" y1="937.29" x2="1174.65" y2="937.29" stroke="#d60000" stroke-width="3"/>
<line x1="1166.15" y1="944.63" x2="1174.65" y2="944.63" stroke="#d60000" stroke-width="3"/>
<line x1="1231.4" y1="962.98" x2="1231.4" y2="955.64" stroke="#d60000" stroke-width="3"/>
<line x1="1227.15" y1="955.64" x2="1235.65" y2="955.64" stroke="#d60000" stroke-width="3"/>
<line x1="1227.15" y1="962.98" x2="1235.65" y2="962.98" stroke="#d60000" stroke-width="3"/>
<line x1="1292.4" y1="973.98" x2="1292.4" y2="966.64" stroke="#d60000" stroke-width="3"/>
<line x1="1288.15" y1="966.64" x2="1296.65" y2="966.64" stroke="#d60000" stroke-width="3"/>
<line x1="1288.15" y1="973.98" x2="1296.65" y2="973.98" stroke="#d60000" stroke-width="3"/>
<polygon points="804.4,681.6 810.6,692 798.2,692" fill="#d60000"/>
<polygon points="865.4,691.51 871.6,701.91 859.2,701.91" fill="#d60000"/>
<polygon points="956.9,767.82 963.1,778.22 950.7,778.22" fill="#d60000"/>
<polygon points="1017.9,832.03 1024.1,842.43 1011.7,842.43" fill="#d60000"/>
<polygon points="1109.4,905.41 1115.6,915.81 1103.2,915.81" fill="#d60000"/>
<polygon points="1170.4,934.76 1176.6,945.16 1164.2,945.16" fill="#d60000"/>
<polygon points="1231.4,953.11 1237.6,963.51 1225.2,963.51" fill="#d60000"/>
<polygon points="1292.4,964.11 1298.6,974.51 1286.2,974.51" fill="#d60000"/>
<polyline points="804.4,689.63 865.4,746.5 956.9,915.28 1017.9,977.65 1109.4,1012.51 1170.4,1021.68 1231.4,1024.25 1292.4,1024.25" fill="none" stroke="#22d4f6" stroke-width="3.2" stroke-linejoin="round"/>
<line x1="804.4" y1="696.97" x2="804.4" y2="682.3" stroke="#22d4f6" stroke-width="3"/>
<line x1="800.15" y1="682.3" x2="808.65" y2="682.3" stroke="#22d4f6" stroke-width="3"/>
<line x1="800.15" y1="696.97" x2="808.65" y2="696.97" stroke="#22d4f6" stroke-width="3"/>
<line x1="865.4" y1="750.17" x2="865.4" y2="742.84" stroke="#22d4f6" stroke-width="3"/>
<line x1="861.15" y1="742.84" x2="869.65" y2="742.84" stroke="#22d4f6" stroke-width="3"/>
<line x1="861.15" y1="750.17" x2="869.65" y2="750.17" stroke="#22d4f6" stroke-width="3"/>
<line x1="956.9" y1="918.21" x2="956.9" y2="912.34" stroke="#22d4f6" stroke-width="3"/>
<line x1="952.65" y1="912.34" x2="961.15" y2="912.34" stroke="#22d4f6" stroke-width="3"/>
<line x1="952.65" y1="918.21" x2="961.15" y2="918.21" stroke="#22d4f6" stroke-width="3"/>
<line x1="1017.9" y1="980.59" x2="1017.9" y2="974.72" stroke="#22d4f6" stroke-width="3"/>
<line x1="1013.65" y1="974.72" x2="1022.15" y2="974.72" stroke="#22d4f6" stroke-width="3"/>
<line x1="1013.65" y1="980.59" x2="1022.15" y2="980.59" stroke="#22d4f6" stroke-width="3"/>
<line x1="1109.4" y1="1016.18" x2="1109.4" y2="1008.84" stroke="#22d4f6" stroke-width="3"/>
<line x1="1105.15" y1="1008.84" x2="1113.65" y2="1008.84" stroke="#22d4f6" stroke-width="3"/>
<line x1="1105.15" y1="1016.18" x2="1113.65" y2="1016.18" stroke="#22d4f6" stroke-width="3"/>
<line x1="1170.4" y1="1024.61" x2="1170.4" y2="1018.74" stroke="#22d4f6" stroke-width="3"/>
<line x1="1166.15" y1="1018.74" x2="1174.65" y2="1018.74" stroke="#22d4f6" stroke-width="3"/>
<line x1="1166.15" y1="1024.61" x2="1174.65" y2="1024.61" stroke="#22d4f6" stroke-width="3"/>
<line x1="1231.4" y1="1027.18" x2="1231.4" y2="1021.31" stroke="#22d4f6" stroke-width="3"/>
<line x1="1227.15" y1="1021.31" x2="1235.65" y2="1021.31" stroke="#22d4f6" stroke-width="3"/>
<line x1="1227.15" y1="1027.18" x2="1235.65" y2="1027.18" stroke="#22d4f6" stroke-width="3"/>
<line x1="1292.4" y1="1027.18" x2="1292.4" y2="1021.31" stroke="#22d4f6" stroke-width="3"/>
<line x1="1288.15" y1="1021.31" x2="1296.65" y2="1021.31" stroke="#22d4f6" stroke-width="3"/>
<line x1="1288.15" y1="1027.18" x2="1296.65" y2="1027.18" stroke="#22d4f6" stroke-width="3"/>
<polygon points="804.4,695.83 810,685.83 798.8,685.83" fill="#22d4f6"/>
<polygon points="865.4,752.7 871,742.7 859.8,742.7" fill="#22d4f6"/>
<polygon points="956.9,921.48 962.5,911.48 951.3,911.48" fill="#22d4f6"/>
<polygon points="1017.9,983.85 1023.5,973.85 1012.3,973.85" fill="#22d4f6"/>
<polygon points="1109.4,1018.71 1115,1008.71 1103.8,1008.71" fill="#22d4f6"/>
<polygon points="1170.4,1027.88 1176,1017.88 1164.8,1017.88" fill="#22d4f6"/>
<polygon points="1231.4,1030.45 1237,1020.45 1225.8,1020.45" fill="#22d4f6"/>
<polygon points="1292.4,1030.45 1298,1020.45 1286.8,1020.45" fill="#22d4f6"/>
<line x1="804.4" y1="651.3" x2="804.4" y2="1067.3" stroke="#000" stroke-width="3.8"/>
<line x1="792" y1="1054.7" x2="1350" y2="1054.7" stroke="#000" stroke-width="4"/>
<line x1="792" y1="1054.7" x2="804.4" y2="1054.7" stroke="#000" stroke-width="3.8"/>
<text transform="translate(781.5 1066.9) scale(1 1.04)" text-anchor="end">0</text>
<line x1="792" y1="981.32" x2="804.4" y2="981.32" stroke="#000" stroke-width="3.8"/>
<text transform="translate(781.5 993.52) scale(1 1.04)" text-anchor="end">20</text>
<line x1="792" y1="907.94" x2="804.4" y2="907.94" stroke="#000" stroke-width="3.8"/>
<text transform="translate(781.5 920.14) scale(1 1.04)" text-anchor="end">40</text>
<line x1="792" y1="834.56" x2="804.4" y2="834.56" stroke="#000" stroke-width="3.8"/>
<text transform="translate(781.5 846.76) scale(1 1.04)" text-anchor="end">60</text>
<line x1="792" y1="761.18" x2="804.4" y2="761.18" stroke="#000" stroke-width="3.8"/>
<text transform="translate(781.5 773.38) scale(1 1.04)" text-anchor="end">80</text>
<line x1="792" y1="687.8" x2="804.4" y2="687.8" stroke="#000" stroke-width="3.8"/>
<text transform="translate(781.5 700) scale(1 1.04)" text-anchor="end">100</text>
<line x1="804.4" y1="1054.7" x2="804.4" y2="1067.3" stroke="#000" stroke-width="3.8"/>
<text transform="translate(804.9 1100.5) scale(1 1.04)" text-anchor="middle">0</text>
<line x1="926.4" y1="1054.7" x2="926.4" y2="1067.3" stroke="#000" stroke-width="3.8"/>
<text transform="translate(926.9 1100.5) scale(1 1.04)" text-anchor="middle">2</text>
<line x1="1048.4" y1="1054.7" x2="1048.4" y2="1067.3" stroke="#000" stroke-width="3.8"/>
<text transform="translate(1048.9 1100.5) scale(1 1.04)" text-anchor="middle">4</text>
<line x1="1170.4" y1="1054.7" x2="1170.4" y2="1067.3" stroke="#000" stroke-width="3.8"/>
<text transform="translate(1170.9 1100.5) scale(1 1.04)" text-anchor="middle">6</text>
<line x1="1292.4" y1="1054.7" x2="1292.4" y2="1067.3" stroke="#000" stroke-width="3.8"/>
<text transform="translate(1292.9 1100.5) scale(1 1.04)" text-anchor="middle">8</text>
<text transform="translate(1073 1133.5) scale(1 1.04)" text-anchor="middle">Time (h)</text>
<text transform="translate(725.5 868) rotate(-90) scale(1 1.04)" text-anchor="middle">Initial OD<tspan font-size="19.5" dy="5.5">600</tspan><tspan dy="-5.5"> (%)</tspan></text>
<line x1="811.4" y1="589.5" x2="850.6" y2="589.5" stroke="#000" stroke-width="3.2"/>
<rect x="826.7" y="585.2" width="8.6" height="8.6" fill="#000"/>
<text transform="translate(862.5 598) scale(1 1.04)">WT N-0</text>
<line x1="1089.8" y1="589.5" x2="1129.3" y2="589.5" stroke="#1212f5" stroke-width="3.2"/>
<circle cx="1109.55" cy="589.5" r="5.2" fill="#1212f5"/>
<text transform="translate(1142.5 598) scale(1 1.04)">WT N-5</text>
<line x1="811.4" y1="633.5" x2="850.6" y2="633.5" stroke="#d60000" stroke-width="3.2"/>
<polygon points="831,627.3 837.2,637.7 824.8,637.7" fill="#d60000"/>
<text transform="translate(862.5 646) scale(1 1.04)">C12S N-0</text>
<line x1="1089.8" y1="633.5" x2="1129.3" y2="633.5" stroke="#22d4f6" stroke-width="3.2"/>
<polygon points="1109.55,639.7 1115.15,629.7 1103.95,629.7" fill="#22d4f6"/>
<text transform="translate(1142.5 646) scale(1 1.04)">C12S N-5</text>
<rect x="1527.5" y="1023.5" width="63" height="67" fill="#000"/>
<rect x="1531.5" y="1027.5" width="55" height="63" fill="#fff"/>
<rect x="1590.5" y="755.5" width="63.9" height="335" fill="#000"/>
<rect x="1594.5" y="759.5" width="55.9" height="331" fill="#d3d3d3"/>
<rect x="1704.5" y="1023.5" width="63" height="67" fill="#000"/>
<rect x="1708.5" y="1027.5" width="55" height="63" fill="#fff"/>
<rect x="1767.5" y="800.39" width="63.9" height="290.11" fill="#000"/>
<rect x="1771.5" y="804.39" width="55.9" height="286.11" fill="#d3d3d3"/>
<rect x="1881.5" y="1023.5" width="63" height="67" fill="#000"/>
<rect x="1885.5" y="1027.5" width="55" height="63" fill="#fff"/>
<rect x="1944.5" y="1022.83" width="63.9" height="67.67" fill="#000"/>
<rect x="1948.5" y="1026.83" width="55.9" height="63.67" fill="#d3d3d3"/>
<line x1="1559" y1="1030.9" x2="1559" y2="1016.6" stroke="#000" stroke-width="4"/>
<line x1="1543.6" y1="1030.9" x2="1574.4" y2="1030.9" stroke="#000" stroke-width="4"/>
<line x1="1543.6" y1="1016.6" x2="1574.4" y2="1016.6" stroke="#000" stroke-width="4"/>
<line x1="1622.4" y1="790.6" x2="1622.4" y2="719.1" stroke="#000" stroke-width="4"/>
<line x1="1607" y1="790.6" x2="1637.8" y2="790.6" stroke="#000" stroke-width="4"/>
<line x1="1607" y1="719.1" x2="1637.8" y2="719.1" stroke="#000" stroke-width="4"/>
<line x1="1736" y1="1037.7" x2="1736" y2="1008.7" stroke="#000" stroke-width="4"/>
<line x1="1720.6" y1="1037.7" x2="1751.4" y2="1037.7" stroke="#000" stroke-width="4"/>
<line x1="1720.6" y1="1008.7" x2="1751.4" y2="1008.7" stroke="#000" stroke-width="4"/>
<line x1="1799.5" y1="827.1" x2="1799.5" y2="771.2" stroke="#000" stroke-width="4"/>
<line x1="1784.1" y1="827.1" x2="1814.9" y2="827.1" stroke="#000" stroke-width="4"/>
<line x1="1784.1" y1="771.2" x2="1814.9" y2="771.2" stroke="#000" stroke-width="4"/>
<line x1="1913.5" y1="1037.7" x2="1913.5" y2="1008.7" stroke="#000" stroke-width="4"/>
<line x1="1898.1" y1="1037.7" x2="1928.9" y2="1037.7" stroke="#000" stroke-width="4"/>
<line x1="1898.1" y1="1008.7" x2="1928.9" y2="1008.7" stroke="#000" stroke-width="4"/>
<line x1="1976.5" y1="1038.7" x2="1976.5" y2="1004.6" stroke="#000" stroke-width="4"/>
<line x1="1961.1" y1="1038.7" x2="1991.9" y2="1038.7" stroke="#000" stroke-width="4"/>
<line x1="1961.1" y1="1004.6" x2="1991.9" y2="1004.6" stroke="#000" stroke-width="4"/>
<circle cx="1546.9" cy="1015.6" r="6.2" fill="#000"/>
<circle cx="1546.9" cy="1030.6" r="6.2" fill="#000"/>
<circle cx="1570.8" cy="1024.7" r="6.2" fill="#000"/>
<circle cx="1610.4" cy="731" r="6.2" fill="#000"/>
<circle cx="1632.6" cy="739.5" r="6.2" fill="#000"/>
<circle cx="1622.4" cy="795.8" r="6.2" fill="#000"/>
<circle cx="1736.5" cy="1007" r="6.2" fill="#000"/>
<circle cx="1724.6" cy="1034.3" r="6.2" fill="#000"/>
<circle cx="1746.7" cy="1029.1" r="6.2" fill="#000"/>
<circle cx="1799.5" cy="766.8" r="6.2" fill="#000"/>
<circle cx="1799.5" cy="807.7" r="6.2" fill="#000"/>
<circle cx="1799.5" cy="821.3" r="6.2" fill="#000"/>
<circle cx="1913.7" cy="1008.7" r="6.2" fill="#000"/>
<circle cx="1913.7" cy="1022.3" r="6.2" fill="#000"/>
<circle cx="1913.7" cy="1039.4" r="6.2" fill="#000"/>
<circle cx="1964.8" cy="1008.7" r="6.2" fill="#000"/>
<circle cx="1985.2" cy="1017.9" r="6.2" fill="#000"/>
<circle cx="1976.7" cy="1041.1" r="6.2" fill="#000"/>
<line x1="1495.7" y1="685.5" x2="1495.7" y2="1092.5" stroke="#000" stroke-width="3.8"/>
<line x1="1479" y1="1090.5" x2="2041.4" y2="1090.5" stroke="#000" stroke-width="3.8"/>
<line x1="1479" y1="1090.5" x2="1495.7" y2="1090.5" stroke="#000" stroke-width="3.8"/>
<text transform="translate(1473.2 1102.5) scale(1 1.04)" text-anchor="end">0</text>
<line x1="1479" y1="1023.5" x2="1495.7" y2="1023.5" stroke="#000" stroke-width="3.8"/>
<text transform="translate(1473.2 1035.5) scale(1 1.04)" text-anchor="end">1</text>
<line x1="1479" y1="956.5" x2="1495.7" y2="956.5" stroke="#000" stroke-width="3.8"/>
<text transform="translate(1473.2 968.5) scale(1 1.04)" text-anchor="end">2</text>
<line x1="1479" y1="889.5" x2="1495.7" y2="889.5" stroke="#000" stroke-width="3.8"/>
<text transform="translate(1473.2 901.5) scale(1 1.04)" text-anchor="end">3</text>
<line x1="1479" y1="822.5" x2="1495.7" y2="822.5" stroke="#000" stroke-width="3.8"/>
<text transform="translate(1473.2 834.5) scale(1 1.04)" text-anchor="end">4</text>
<line x1="1479" y1="755.5" x2="1495.7" y2="755.5" stroke="#000" stroke-width="3.8"/>
<text transform="translate(1473.2 767.5) scale(1 1.04)" text-anchor="end">5</text>
<line x1="1479" y1="688.5" x2="1495.7" y2="688.5" stroke="#000" stroke-width="3.8"/>
<text transform="translate(1473.2 700.5) scale(1 1.04)" text-anchor="end">6</text>
<line x1="1590.5" y1="1090.5" x2="1590.5" y2="1107.3" stroke="#000" stroke-width="3.8"/>
<line x1="1767.5" y1="1090.5" x2="1767.5" y2="1107.3" stroke="#000" stroke-width="3.8"/>
<line x1="1944.5" y1="1090.5" x2="1944.5" y2="1107.3" stroke="#000" stroke-width="3.8"/>
<text transform="translate(1592.5 1142) scale(1 1.04)" text-anchor="middle"><tspan font-style="italic">lytN</tspan></text>
<text transform="translate(1769.2 1142) scale(1 1.04)" text-anchor="middle"><tspan font-style="italic">sarV</tspan></text>
<text transform="translate(1950 1142) scale(1 1.04)" text-anchor="middle"><tspan font-style="italic">atlA</tspan></text>
<text transform="translate(1432 892) rotate(-90) scale(1 1.04)" text-anchor="middle">Relative cDNA abundance</text>
<rect x="1523.5" y="557.3" width="80.1" height="35.1" fill="#000"/>
<rect x="1527.5" y="561.3" width="72.1" height="27.1" fill="#fff"/>
<text transform="translate(1620 584.5) scale(1 1.04)">WT</text>
<rect x="1523.5" y="606.7" width="80.1" height="35.1" fill="#000"/>
<rect x="1527.5" y="610.7" width="72.1" height="27.1" fill="#d3d3d3"/>
<text transform="translate(1620 634) scale(1 1.04)"><tspan font-style="italic">mgrA</tspan>C12S</text>
<text transform="translate(1522.9 700.4) scale(1 1.04)"><tspan font-style="italic">p</tspan> = 0.0002</text>
<line x1="1557.6" y1="707.9" x2="1628.1" y2="707.9" stroke="#000" stroke-width="4"/>
<text transform="translate(1701.7 744.6) scale(1 1.04)"><tspan font-style="italic">p</tspan> = 0.0002</text>
<line x1="1735.8" y1="753.2" x2="1805.7" y2="753.2" stroke="#000" stroke-width="4"/>
<text transform="translate(1893.2 981.4) scale(1 1.04)"><tspan font-style="italic">p</tspan> = 0.93</text>
<line x1="1911.3" y1="990.6" x2="1981.8" y2="990.6" stroke="#000" stroke-width="4"/>
<rect x="121.8" y="1660.6" width="51" height="68.9" fill="#000"/>
<rect x="125.8" y="1664.6" width="43" height="64.9" fill="#fff"/>
<rect x="172.8" y="1689.54" width="51" height="39.96" fill="#000"/>
<rect x="176.8" y="1693.54" width="43" height="35.96" fill="#d3d3d3"/>
<rect x="223.8" y="1691.26" width="51" height="38.24" fill="#000"/>
<rect x="227.8" y="1695.26" width="43" height="34.24" fill="#808080"/>
<rect x="315.1" y="1426.34" width="51" height="303.16" fill="#000"/>
<rect x="319.1" y="1430.34" width="43" height="299.16" fill="#fff"/>
<rect x="366.1" y="1504.2" width="51" height="225.3" fill="#000"/>
<rect x="370.1" y="1508.2" width="43" height="221.3" fill="#d3d3d3"/>
<rect x="417.1" y="1468.37" width="51" height="261.13" fill="#000"/>
<rect x="421.1" y="1472.37" width="43" height="257.13" fill="#808080"/>
<rect x="508.5" y="1660.6" width="51" height="68.9" fill="#000"/>
<rect x="512.5" y="1664.6" width="43" height="64.9" fill="#fff"/>
<rect x="559.5" y="1683.34" width="51" height="46.16" fill="#000"/>
<rect x="563.5" y="1687.34" width="43" height="42.16" fill="#d3d3d3"/>
<rect x="610.5" y="1686.09" width="51" height="43.41" fill="#000"/>
<rect x="614.5" y="1690.09" width="43" height="39.41" fill="#808080"/>
<rect x="702.3" y="1427.72" width="51" height="301.78" fill="#000"/>
<rect x="706.3" y="1431.72" width="43" height="297.78" fill="#fff"/>
<rect x="753.3" y="1424.96" width="51" height="304.54" fill="#000"/>
<rect x="757.3" y="1428.96" width="43" height="300.54" fill="#d3d3d3"/>
<rect x="804.3" y="1451.83" width="51" height="277.67" fill="#000"/>
<rect x="808.3" y="1455.83" width="43" height="273.67" fill="#808080"/>
<line x1="147.5" y1="1671.1" x2="147.5" y2="1650" stroke="#000" stroke-width="4"/>
<line x1="134.75" y1="1671.1" x2="160.25" y2="1671.1" stroke="#000" stroke-width="4"/>
<line x1="134.75" y1="1650" x2="160.25" y2="1650" stroke="#000" stroke-width="4"/>
<line x1="198.7" y1="1699.9" x2="198.7" y2="1678.3" stroke="#000" stroke-width="4"/>
<line x1="185.95" y1="1699.9" x2="211.45" y2="1699.9" stroke="#000" stroke-width="4"/>
<line x1="185.95" y1="1678.3" x2="211.45" y2="1678.3" stroke="#000" stroke-width="4"/>
<line x1="249.4" y1="1695" x2="249.4" y2="1686.6" stroke="#000" stroke-width="4"/>
<line x1="236.65" y1="1695" x2="262.15" y2="1695" stroke="#000" stroke-width="4"/>
<line x1="236.65" y1="1686.6" x2="262.15" y2="1686.6" stroke="#000" stroke-width="4"/>
<line x1="340.7" y1="1496" x2="340.7" y2="1351.3" stroke="#000" stroke-width="4"/>
<line x1="327.95" y1="1496" x2="353.45" y2="1496" stroke="#000" stroke-width="4"/>
<line x1="327.95" y1="1351.3" x2="353.45" y2="1351.3" stroke="#000" stroke-width="4"/>
<line x1="391.6" y1="1539.4" x2="391.6" y2="1465.5" stroke="#000" stroke-width="4"/>
<line x1="378.85" y1="1539.4" x2="404.35" y2="1539.4" stroke="#000" stroke-width="4"/>
<line x1="378.85" y1="1465.5" x2="404.35" y2="1465.5" stroke="#000" stroke-width="4"/>
<line x1="442.5" y1="1498.2" x2="442.5" y2="1437.6" stroke="#000" stroke-width="4"/>
<line x1="429.75" y1="1498.2" x2="455.25" y2="1498.2" stroke="#000" stroke-width="4"/>
<line x1="429.75" y1="1437.6" x2="455.25" y2="1437.6" stroke="#000" stroke-width="4"/>
<line x1="535" y1="1671.2" x2="535" y2="1651.3" stroke="#000" stroke-width="4"/>
<line x1="522.25" y1="1671.2" x2="547.75" y2="1671.2" stroke="#000" stroke-width="4"/>
<line x1="522.25" y1="1651.3" x2="547.75" y2="1651.3" stroke="#000" stroke-width="4"/>
<line x1="585" y1="1690.7" x2="585" y2="1673.5" stroke="#000" stroke-width="4"/>
<line x1="572.25" y1="1690.7" x2="597.75" y2="1690.7" stroke="#000" stroke-width="4"/>
<line x1="572.25" y1="1673.5" x2="597.75" y2="1673.5" stroke="#000" stroke-width="4"/>
<line x1="635.6" y1="1690.7" x2="635.6" y2="1678.8" stroke="#000" stroke-width="4"/>
<line x1="622.85" y1="1690.7" x2="648.35" y2="1690.7" stroke="#000" stroke-width="4"/>
<line x1="622.85" y1="1678.8" x2="648.35" y2="1678.8" stroke="#000" stroke-width="4"/>
<line x1="727.9" y1="1458.8" x2="727.9" y2="1394.2" stroke="#000" stroke-width="4"/>
<line x1="715.15" y1="1458.8" x2="740.65" y2="1458.8" stroke="#000" stroke-width="4"/>
<line x1="715.15" y1="1394.2" x2="740.65" y2="1394.2" stroke="#000" stroke-width="4"/>
<line x1="778.8" y1="1441.2" x2="778.8" y2="1406.6" stroke="#000" stroke-width="4"/>
<line x1="766.05" y1="1441.2" x2="791.55" y2="1441.2" stroke="#000" stroke-width="4"/>
<line x1="766.05" y1="1406.6" x2="791.55" y2="1406.6" stroke="#000" stroke-width="4"/>
<line x1="829.6" y1="1478.3" x2="829.6" y2="1423.5" stroke="#000" stroke-width="4"/>
<line x1="816.85" y1="1478.3" x2="842.35" y2="1478.3" stroke="#000" stroke-width="4"/>
<line x1="816.85" y1="1423.5" x2="842.35" y2="1423.5" stroke="#000" stroke-width="4"/>
<circle cx="135.1" cy="1654.9" r="6.3" fill="#000"/>
<circle cx="159.6" cy="1654.9" r="6.3" fill="#000"/>
<circle cx="147.4" cy="1673.1" r="6.3" fill="#000"/>
<circle cx="186.2" cy="1680.5" r="6.3" fill="#000"/>
<circle cx="210.3" cy="1685.4" r="6.3" fill="#000"/>
<circle cx="198" cy="1701.6" r="6.3" fill="#000"/>
<circle cx="230" cy="1692.8" r="6.3" fill="#000"/>
<circle cx="248.9" cy="1684.9" r="6.3" fill="#000"/>
<circle cx="268.3" cy="1691.3" r="6.3" fill="#000"/>
<circle cx="328.3" cy="1379.2" r="6.3" fill="#000"/>
<circle cx="352.7" cy="1384.5" r="6.3" fill="#000"/>
<circle cx="340.7" cy="1507.5" r="6.3" fill="#000"/>
<circle cx="379.6" cy="1479.6" r="6.3" fill="#000"/>
<circle cx="403.5" cy="1481.9" r="6.3" fill="#000"/>
<circle cx="391.6" cy="1545.1" r="6.3" fill="#000"/>
<circle cx="442.5" cy="1435.4" r="6.3" fill="#000"/>
<circle cx="442.5" cy="1473" r="6.3" fill="#000"/>
<circle cx="442.5" cy="1497.3" r="6.3" fill="#000"/>
<circle cx="524.3" cy="1654.4" r="6.3" fill="#000"/>
<circle cx="546.5" cy="1654.4" r="6.3" fill="#000"/>
<circle cx="535.4" cy="1672.1" r="6.3" fill="#000"/>
<circle cx="570.8" cy="1675.2" r="6.3" fill="#000"/>
<circle cx="597.3" cy="1679.6" r="6.3" fill="#000"/>
<circle cx="573" cy="1692" r="6.3" fill="#000"/>
<circle cx="623.9" cy="1678.8" r="6.3" fill="#000"/>
<circle cx="646" cy="1686.7" r="6.3" fill="#000"/>
<circle cx="623.9" cy="1690.7" r="6.3" fill="#000"/>
<circle cx="714.6" cy="1405.8" r="6.3" fill="#000"/>
<circle cx="739.8" cy="1411.1" r="6.3" fill="#000"/>
<circle cx="727.9" cy="1463.3" r="6.3" fill="#000"/>
<circle cx="765.5" cy="1414.6" r="6.3" fill="#000"/>
<circle cx="791.2" cy="1415.5" r="6.3" fill="#000"/>
<circle cx="778.8" cy="1444.2" r="6.3" fill="#000"/>
<circle cx="818.6" cy="1431" r="6.3" fill="#000"/>
<circle cx="842.9" cy="1436.7" r="6.3" fill="#000"/>
<circle cx="829.6" cy="1482.7" r="6.3" fill="#000"/>
<line x1="96.8" y1="1314" x2="96.8" y2="1731.5" stroke="#000" stroke-width="3.8"/>
<line x1="79.6" y1="1729.5" x2="882.7" y2="1729.5" stroke="#000" stroke-width="3.8"/>
<line x1="79.6" y1="1729.5" x2="96.8" y2="1729.5" stroke="#000" stroke-width="3.8"/>
<text transform="translate(70.2 1742) scale(1 1.04)" text-anchor="end">0</text>
<line x1="79.6" y1="1660.6" x2="96.8" y2="1660.6" stroke="#000" stroke-width="3.8"/>
<text transform="translate(70.2 1673.1) scale(1 1.04)" text-anchor="end">1</text>
<line x1="79.6" y1="1591.7" x2="96.8" y2="1591.7" stroke="#000" stroke-width="3.8"/>
<text transform="translate(70.2 1604.2) scale(1 1.04)" text-anchor="end">2</text>
<line x1="79.6" y1="1522.8" x2="96.8" y2="1522.8" stroke="#000" stroke-width="3.8"/>
<text transform="translate(70.2 1535.3) scale(1 1.04)" text-anchor="end">3</text>
<line x1="79.6" y1="1453.9" x2="96.8" y2="1453.9" stroke="#000" stroke-width="3.8"/>
<text transform="translate(70.2 1466.4) scale(1 1.04)" text-anchor="end">4</text>
<line x1="79.6" y1="1385" x2="96.8" y2="1385" stroke="#000" stroke-width="3.8"/>
<text transform="translate(70.2 1397.5) scale(1 1.04)" text-anchor="end">5</text>
<line x1="79.6" y1="1316.1" x2="96.8" y2="1316.1" stroke="#000" stroke-width="3.8"/>
<text transform="translate(70.2 1328.6) scale(1 1.04)" text-anchor="end">6</text>
<line x1="198.3" y1="1729.5" x2="198.3" y2="1745" stroke="#000" stroke-width="3.8"/>
<line x1="391.6" y1="1729.5" x2="391.6" y2="1745" stroke="#000" stroke-width="3.8"/>
<line x1="585" y1="1729.5" x2="585" y2="1745" stroke="#000" stroke-width="3.8"/>
<line x1="778.8" y1="1729.5" x2="778.8" y2="1745" stroke="#000" stroke-width="3.8"/>
<text transform="translate(198.3 1782.6) scale(1 1.04)" text-anchor="middle">WT</text>
<text transform="translate(392 1782.6) scale(1 1.04)" text-anchor="middle">C12S</text>
<text transform="translate(585.5 1782.6) scale(1 1.04)" text-anchor="middle">WT</text>
<text transform="translate(779.8 1782.6) scale(1 1.04)" text-anchor="middle">C12S</text>
<line x1="161.5" y1="1791.5" x2="439" y2="1791.5" stroke="#000" stroke-width="3.8"/>
<line x1="549.6" y1="1791.5" x2="826.5" y2="1791.5" stroke="#000" stroke-width="3.8"/>
<text transform="translate(296.5 1828.2) scale(1 1.04)" text-anchor="middle"><tspan font-style="italic">lytN</tspan></text>
<text transform="translate(685.8 1828.2) scale(1 1.04)" text-anchor="middle"><tspan font-style="italic">sarV</tspan></text>
<text transform="translate(32 1528.3) rotate(-90) scale(1 1.04)" text-anchor="middle">Relative cDNA abundance</text>
<rect x="93.4" y="1200.4" width="51.8" height="27.5" fill="#000"/>
<rect x="97.4" y="1204.4" width="43.8" height="19.5" fill="#fff"/>
<text transform="translate(155.5 1229.6) scale(1 1.04)">SNP 0 mM</text>
<rect x="93.4" y="1239.2" width="51.8" height="27.6" fill="#000"/>
<rect x="97.4" y="1243.2" width="43.8" height="19.6" fill="#d3d3d3"/>
<text transform="translate(155.5 1268.6) scale(1 1.04)">SNP 0.2 mM</text>
<rect x="93.4" y="1277.5" width="51.8" height="27.8" fill="#000"/>
<rect x="97.4" y="1281.5" width="43.8" height="19.8" fill="#686868"/>
<text transform="translate(155.5 1307) scale(1 1.04)">SNP 1 mM</text>
<text transform="translate(126.1 1592.5) scale(1 1.04)"><tspan font-style="italic">p</tspan> = 0.0105</text>
<line x1="143.8" y1="1600.4" x2="248.7" y2="1600.4" stroke="#000" stroke-width="4"/>
<text transform="translate(107.5 1633.6) scale(1 1.04)"><tspan font-style="italic">p</tspan> = 0.0318</text>
<line x1="140.2" y1="1639.6" x2="195.8" y2="1639.6" stroke="#000" stroke-width="4"/>
<text transform="translate(351.8 1288) scale(1 1.04)"><tspan font-style="italic">p</tspan> = 0.91</text>
<line x1="335" y1="1300.9" x2="440.3" y2="1300.9" stroke="#000" stroke-width="4"/>
<text transform="translate(338.5 1332.3) scale(1 1.04)"><tspan font-style="italic">p</tspan> = 0.17</text>
<line x1="335" y1="1342.5" x2="388.5" y2="1342.5" stroke="#000" stroke-width="4"/>
<text transform="translate(512.4 1592.5) scale(1 1.04)"><tspan font-style="italic">p</tspan> = 0.0227</text>
<line x1="526.5" y1="1600.4" x2="631.9" y2="1600.4" stroke="#000" stroke-width="4"/>
<text transform="translate(486.7 1633.6) scale(1 1.04)"><tspan font-style="italic">p</tspan> = 0.0475</text>
<line x1="526.5" y1="1639.2" x2="581.9" y2="1639.2" stroke="#000" stroke-width="4"/>
<text transform="translate(726.5 1330.1) scale(1 1.04)"><tspan font-style="italic">p</tspan> = 0.39</text>
<line x1="730.1" y1="1341.6" x2="836.3" y2="1341.6" stroke="#000" stroke-width="4"/>
<text transform="translate(700 1375.7) scale(1 1.04)"><tspan font-style="italic">p</tspan> = 0.39</text>
<line x1="727.9" y1="1383.2" x2="782.3" y2="1383.2" stroke="#000" stroke-width="4"/>
<rect x="1102.8" y="1668.6" width="50" height="58.3" fill="#000"/>
<rect x="1106.8" y="1672.6" width="42" height="54.3" fill="#fff"/>
<rect x="1152.8" y="1659.27" width="50" height="67.63" fill="#000"/>
<rect x="1156.8" y="1663.27" width="42" height="63.63" fill="#d3d3d3"/>
<rect x="1202.8" y="1646.45" width="50" height="80.45" fill="#000"/>
<rect x="1206.8" y="1650.45" width="42" height="76.45" fill="#808080"/>
<rect x="1252.8" y="1674.43" width="50" height="52.47" fill="#000"/>
<rect x="1256.8" y="1678.43" width="42" height="48.47" fill="#333333"/>
<rect x="1342.6" y="1469.8" width="50" height="257.1" fill="#000"/>
<rect x="1346.6" y="1473.8" width="42" height="253.1" fill="#fff"/>
<rect x="1392.6" y="1487.87" width="50" height="239.03" fill="#000"/>
<rect x="1396.6" y="1491.87" width="42" height="235.03" fill="#d3d3d3"/>
<rect x="1442.6" y="1514.4" width="50" height="212.5" fill="#000"/>
<rect x="1446.6" y="1518.4" width="42" height="208.5" fill="#808080"/>
<rect x="1492.6" y="1508.86" width="50" height="218.04" fill="#000"/>
<rect x="1496.6" y="1512.86" width="42" height="214.04" fill="#333333"/>
<rect x="1582.6" y="1668.6" width="50" height="58.3" fill="#000"/>
<rect x="1586.6" y="1672.6" width="42" height="54.3" fill="#fff"/>
<rect x="1632.6" y="1657.52" width="50" height="69.38" fill="#000"/>
<rect x="1636.6" y="1661.52" width="42" height="65.38" fill="#d3d3d3"/>
<rect x="1682.6" y="1636.54" width="50" height="90.37" fill="#000"/>
<rect x="1686.6" y="1640.54" width="42" height="86.37" fill="#808080"/>
<rect x="1732.6" y="1636.54" width="50" height="90.37" fill="#000"/>
<rect x="1736.6" y="1640.54" width="42" height="86.37" fill="#333333"/>
<rect x="1822.6" y="1455.81" width="50" height="271.1" fill="#000"/>
<rect x="1826.6" y="1459.81" width="42" height="267.1" fill="#fff"/>
<rect x="1872.6" y="1452.31" width="50" height="274.59" fill="#000"/>
<rect x="1876.6" y="1456.31" width="42" height="270.59" fill="#d3d3d3"/>
<rect x="1922.6" y="1456.97" width="50" height="269.93" fill="#000"/>
<rect x="1926.6" y="1460.97" width="42" height="265.93" fill="#808080"/>
<rect x="1972.6" y="1397.51" width="50" height="329.39" fill="#000"/>
<rect x="1976.6" y="1401.51" width="42" height="325.39" fill="#333333"/>
<line x1="1127.8" y1="1678.1" x2="1127.8" y2="1660.8" stroke="#000" stroke-width="4"/>
<line x1="1115.4" y1="1678.1" x2="1140.2" y2="1678.1" stroke="#000" stroke-width="4"/>
<line x1="1115.4" y1="1660.8" x2="1140.2" y2="1660.8" stroke="#000" stroke-width="4"/>
<line x1="1177.8" y1="1660" x2="1177.8" y2="1652.7" stroke="#000" stroke-width="4"/>
<line x1="1165.4" y1="1660" x2="1190.2" y2="1660" stroke="#000" stroke-width="4"/>
<line x1="1165.4" y1="1652.7" x2="1190.2" y2="1652.7" stroke="#000" stroke-width="4"/>
<line x1="1227.8" y1="1667.3" x2="1227.8" y2="1625.8" stroke="#000" stroke-width="4"/>
<line x1="1215.4" y1="1667.3" x2="1240.2" y2="1667.3" stroke="#000" stroke-width="4"/>
<line x1="1215.4" y1="1625.8" x2="1240.2" y2="1625.8" stroke="#000" stroke-width="4"/>
<line x1="1277.8" y1="1676" x2="1277.8" y2="1670.4" stroke="#000" stroke-width="4"/>
<line x1="1265.4" y1="1676" x2="1290.2" y2="1676" stroke="#000" stroke-width="4"/>
<line x1="1265.4" y1="1670.4" x2="1290.2" y2="1670.4" stroke="#000" stroke-width="4"/>
<line x1="1367.1" y1="1530.4" x2="1367.1" y2="1407.8" stroke="#000" stroke-width="4"/>
<line x1="1354.7" y1="1530.4" x2="1379.5" y2="1530.4" stroke="#000" stroke-width="4"/>
<line x1="1354.7" y1="1407.8" x2="1379.5" y2="1407.8" stroke="#000" stroke-width="4"/>
<line x1="1417.5" y1="1522" x2="1417.5" y2="1454.7" stroke="#000" stroke-width="4"/>
<line x1="1405.1" y1="1522" x2="1429.9" y2="1522" stroke="#000" stroke-width="4"/>
<line x1="1405.1" y1="1454.7" x2="1429.9" y2="1454.7" stroke="#000" stroke-width="4"/>
<line x1="1467.6" y1="1532.9" x2="1467.6" y2="1495" stroke="#000" stroke-width="4"/>
<line x1="1455.2" y1="1532.9" x2="1480" y2="1532.9" stroke="#000" stroke-width="4"/>
<line x1="1455.2" y1="1495" x2="1480" y2="1495" stroke="#000" stroke-width="4"/>
<line x1="1517.6" y1="1512" x2="1517.6" y2="1506.3" stroke="#000" stroke-width="4"/>
<line x1="1505.2" y1="1512" x2="1530" y2="1512" stroke="#000" stroke-width="4"/>
<line x1="1505.2" y1="1506.3" x2="1530" y2="1506.3" stroke="#000" stroke-width="4"/>
<line x1="1607.6" y1="1676.7" x2="1607.6" y2="1662.2" stroke="#000" stroke-width="4"/>
<line x1="1595.2" y1="1676.7" x2="1620" y2="1676.7" stroke="#000" stroke-width="4"/>
<line x1="1595.2" y1="1662.2" x2="1620" y2="1662.2" stroke="#000" stroke-width="4"/>
<line x1="1657.4" y1="1657.6" x2="1657.4" y2="1650.3" stroke="#000" stroke-width="4"/>
<line x1="1645" y1="1657.6" x2="1669.8" y2="1657.6" stroke="#000" stroke-width="4"/>
<line x1="1645" y1="1650.3" x2="1669.8" y2="1650.3" stroke="#000" stroke-width="4"/>
<line x1="1707.5" y1="1659.6" x2="1707.5" y2="1612.8" stroke="#000" stroke-width="4"/>
<line x1="1695.1" y1="1659.6" x2="1719.9" y2="1659.6" stroke="#000" stroke-width="4"/>
<line x1="1695.1" y1="1612.8" x2="1719.9" y2="1612.8" stroke="#000" stroke-width="4"/>
<line x1="1757.5" y1="1654.3" x2="1757.5" y2="1617.1" stroke="#000" stroke-width="4"/>
<line x1="1745.1" y1="1654.3" x2="1769.9" y2="1654.3" stroke="#000" stroke-width="4"/>
<line x1="1745.1" y1="1617.1" x2="1769.9" y2="1617.1" stroke="#000" stroke-width="4"/>
<line x1="1847.1" y1="1463.8" x2="1847.1" y2="1450.7" stroke="#000" stroke-width="4"/>
<line x1="1834.7" y1="1463.8" x2="1859.5" y2="1463.8" stroke="#000" stroke-width="4"/>
<line x1="1834.7" y1="1450.7" x2="1859.5" y2="1450.7" stroke="#000" stroke-width="4"/>
<line x1="1897.2" y1="1479.1" x2="1897.2" y2="1424.2" stroke="#000" stroke-width="4"/>
<line x1="1884.8" y1="1479.1" x2="1909.6" y2="1479.1" stroke="#000" stroke-width="4"/>
<line x1="1884.8" y1="1424.2" x2="1909.6" y2="1424.2" stroke="#000" stroke-width="4"/>
<line x1="1947.2" y1="1505" x2="1947.2" y2="1407.4" stroke="#000" stroke-width="4"/>
<line x1="1934.8" y1="1505" x2="1959.6" y2="1505" stroke="#000" stroke-width="4"/>
<line x1="1934.8" y1="1407.4" x2="1959.6" y2="1407.4" stroke="#000" stroke-width="4"/>
<line x1="1997.3" y1="1431.6" x2="1997.3" y2="1362.9" stroke="#000" stroke-width="4"/>
<line x1="1984.9" y1="1431.6" x2="2009.7" y2="1431.6" stroke="#000" stroke-width="4"/>
<line x1="1984.9" y1="1362.9" x2="2009.7" y2="1362.9" stroke="#000" stroke-width="4"/>
<circle cx="1115.4" cy="1663.1" r="6.2" fill="#000"/>
<circle cx="1140" cy="1663.1" r="6.2" fill="#000"/>
<circle cx="1127.7" cy="1680" r="6.2" fill="#000"/>
<circle cx="1158.5" cy="1658.5" r="6.2" fill="#000"/>
<circle cx="1177.7" cy="1650.8" r="6.2" fill="#000"/>
<circle cx="1196.9" cy="1656.9" r="6.2" fill="#000"/>
<circle cx="1227.7" cy="1625.4" r="6.2" fill="#000"/>
<circle cx="1227.7" cy="1646.2" r="6.2" fill="#000"/>
<circle cx="1227.7" cy="1666.9" r="6.2" fill="#000"/>
<circle cx="1258.5" cy="1676.2" r="6.2" fill="#000"/>
<circle cx="1277.7" cy="1670.8" r="6.2" fill="#000"/>
<circle cx="1296.2" cy="1671.5" r="6.2" fill="#000"/>
<circle cx="1355.2" cy="1431.7" r="6.2" fill="#000"/>
<circle cx="1379.7" cy="1435.7" r="6.2" fill="#000"/>
<circle cx="1367.4" cy="1539.7" r="6.2" fill="#000"/>
<circle cx="1417.5" cy="1451.7" r="6.2" fill="#000"/>
<circle cx="1417.5" cy="1494.8" r="6.2" fill="#000"/>
<circle cx="1417.5" cy="1518.5" r="6.2" fill="#000"/>
<circle cx="1467.6" cy="1496.3" r="6.2" fill="#000"/>
<circle cx="1467.6" cy="1510.8" r="6.2" fill="#000"/>
<circle cx="1467.6" cy="1534.1" r="6.2" fill="#000"/>
<circle cx="1498.4" cy="1510.4" r="6.2" fill="#000"/>
<circle cx="1517.7" cy="1505.9" r="6.2" fill="#000"/>
<circle cx="1536.3" cy="1508.1" r="6.2" fill="#000"/>
<circle cx="1595.5" cy="1664.2" r="6.2" fill="#000"/>
<circle cx="1619.8" cy="1664.2" r="6.2" fill="#000"/>
<circle cx="1607.6" cy="1678.7" r="6.2" fill="#000"/>
<circle cx="1638.6" cy="1658.2" r="6.2" fill="#000"/>
<circle cx="1657.4" cy="1650.3" r="6.2" fill="#000"/>
<circle cx="1676.8" cy="1655.3" r="6.2" fill="#000"/>
<circle cx="1695.7" cy="1621.1" r="6.2" fill="#000"/>
<circle cx="1719.7" cy="1623.3" r="6.2" fill="#000"/>
<circle cx="1707.5" cy="1663.5" r="6.2" fill="#000"/>
<circle cx="1757.5" cy="1614.7" r="6.2" fill="#000"/>
<circle cx="1769.8" cy="1641.1" r="6.2" fill="#000"/>
<circle cx="1745.4" cy="1651.4" r="6.2" fill="#000"/>
<circle cx="1834.7" cy="1450.2" r="6.2" fill="#000"/>
<circle cx="1860.7" cy="1450.2" r="6.2" fill="#000"/>
<circle cx="1847.1" cy="1466" r="6.2" fill="#000"/>
<circle cx="1897.2" cy="1422.7" r="6.2" fill="#000"/>
<circle cx="1897.2" cy="1455.1" r="6.2" fill="#000"/>
<circle cx="1897.2" cy="1477.1" r="6.2" fill="#000"/>
<circle cx="1947.2" cy="1404.2" r="6.2" fill="#000"/>
<circle cx="1947.2" cy="1463.8" r="6.2" fill="#000"/>
<circle cx="1947.2" cy="1501.3" r="6.2" fill="#000"/>
<circle cx="1997.3" cy="1370.3" r="6.2" fill="#000"/>
<circle cx="1997.3" cy="1384.7" r="6.2" fill="#000"/>
<circle cx="1997.3" cy="1435.8" r="6.2" fill="#000"/>
<line x1="1077.5" y1="1318" x2="1077.5" y2="1728.9" stroke="#000" stroke-width="4"/>
<line x1="1060.5" y1="1726.9" x2="2050" y2="1726.9" stroke="#000" stroke-width="4"/>
<line x1="1060.5" y1="1726.9" x2="1077.5" y2="1726.9" stroke="#000" stroke-width="4"/>
<text transform="translate(1053.2 1738.9) scale(1 1.04)" text-anchor="end">0</text>
<line x1="1060.5" y1="1668.78" x2="1077.5" y2="1668.78" stroke="#000" stroke-width="4"/>
<text transform="translate(1053.2 1680.78) scale(1 1.04)" text-anchor="end">1</text>
<line x1="1060.5" y1="1610.66" x2="1077.5" y2="1610.66" stroke="#000" stroke-width="4"/>
<text transform="translate(1053.2 1622.66) scale(1 1.04)" text-anchor="end">2</text>
<line x1="1060.5" y1="1552.54" x2="1077.5" y2="1552.54" stroke="#000" stroke-width="4"/>
<text transform="translate(1053.2 1564.54) scale(1 1.04)" text-anchor="end">3</text>
<line x1="1060.5" y1="1494.42" x2="1077.5" y2="1494.42" stroke="#000" stroke-width="4"/>
<text transform="translate(1053.2 1506.42) scale(1 1.04)" text-anchor="end">4</text>
<line x1="1060.5" y1="1436.3" x2="1077.5" y2="1436.3" stroke="#000" stroke-width="4"/>
<text transform="translate(1053.2 1448.3) scale(1 1.04)" text-anchor="end">5</text>
<line x1="1060.5" y1="1378.18" x2="1077.5" y2="1378.18" stroke="#000" stroke-width="4"/>
<text transform="translate(1053.2 1390.18) scale(1 1.04)" text-anchor="end">6</text>
<line x1="1060.5" y1="1320.06" x2="1077.5" y2="1320.06" stroke="#000" stroke-width="4"/>
<text transform="translate(1053.2 1332.06) scale(1 1.04)" text-anchor="end">7</text>
<line x1="1202.8" y1="1726.9" x2="1202.8" y2="1744" stroke="#000" stroke-width="4"/>
<line x1="1442.6" y1="1726.9" x2="1442.6" y2="1744" stroke="#000" stroke-width="4"/>
<line x1="1682.6" y1="1726.9" x2="1682.6" y2="1744" stroke="#000" stroke-width="4"/>
<line x1="1922.6" y1="1726.9" x2="1922.6" y2="1744" stroke="#000" stroke-width="4"/>
<text transform="translate(1203.8 1780) scale(1 1.04)" text-anchor="middle">WT</text>
<text transform="translate(1444.1 1780) scale(1 1.04)" text-anchor="middle">C12S</text>
<text transform="translate(1685.1 1780) scale(1 1.04)" text-anchor="middle">WT</text>
<text transform="translate(1924.6 1780) scale(1 1.04)" text-anchor="middle">C12S</text>
<line x1="1172.5" y1="1788.8" x2="1484" y2="1788.8" stroke="#000" stroke-width="4"/>
<line x1="1653.5" y1="1788.8" x2="1965.6" y2="1788.8" stroke="#000" stroke-width="4"/>
<text transform="translate(1325 1825) scale(1 1.04)" text-anchor="middle"><tspan font-style="italic">lytN</tspan></text>
<text transform="translate(1808 1825) scale(1 1.04)" text-anchor="middle"><tspan font-style="italic">sarV</tspan></text>
<text transform="translate(1017 1527.5) rotate(-90) scale(1 1.04)" text-anchor="middle">Relative cDNA abundance</text>
<rect x="1088.6" y="1193.9" width="51.8" height="27.5" fill="#000"/>
<rect x="1092.6" y="1197.9" width="43.8" height="19.5" fill="#fff"/>
<text transform="translate(1154 1219.8) scale(1 1.04)">H<tspan font-size="20.4" dy="6">2</tspan><tspan dy="-6">O</tspan><tspan font-size="20.4" dy="6">2</tspan><tspan dy="-6"> 0 mM</tspan></text>
<rect x="1088.6" y="1232.8" width="51.8" height="27.1" fill="#000"/>
<rect x="1092.6" y="1236.8" width="43.8" height="19.1" fill="#d3d3d3"/>
<text transform="translate(1154 1258.3) scale(1 1.04)">H<tspan font-size="20.4" dy="6">2</tspan><tspan dy="-6">O</tspan><tspan font-size="20.4" dy="6">2</tspan><tspan dy="-6"> 0.05 mM</tspan></text>
<rect x="1088.6" y="1271.3" width="51.8" height="27.1" fill="#000"/>
<rect x="1092.6" y="1275.3" width="43.8" height="19.1" fill="#686868"/>
<text transform="translate(1154 1297.5) scale(1 1.04)">H<tspan font-size="20.4" dy="6">2</tspan><tspan dy="-6">O</tspan><tspan font-size="20.4" dy="6">2</tspan><tspan dy="-6"> 0.2 mM</tspan></text>
<rect x="1088.6" y="1309.4" width="51.8" height="27.5" fill="#000"/>
<rect x="1092.6" y="1313.4" width="43.8" height="19.5" fill="#333333"/>
<text transform="translate(1154 1335.6) scale(1 1.04)">H<tspan font-size="20.4" dy="6">2</tspan><tspan dy="-6">O</tspan><tspan font-size="20.4" dy="6">2</tspan><tspan dy="-6"> 1 mM</tspan></text>
<text transform="translate(1142 1536.9) scale(1 1.04)"><tspan font-style="italic">p</tspan> = 0.48</text>
<line x1="1116.9" y1="1546.2" x2="1273.5" y2="1546.2" stroke="#000" stroke-width="4"/>
<text transform="translate(1118.8 1577.7) scale(1 1.04)"><tspan font-style="italic">p</tspan> = 0.16</text>
<line x1="1121.5" y1="1587.5" x2="1224.2" y2="1587.5" stroke="#000" stroke-width="4"/>
<text transform="translate(1105.1 1617.4) scale(1 1.04)"><tspan font-style="italic">p</tspan> = 0.09</text>
<line x1="1120" y1="1627.3" x2="1173.8" y2="1627.3" stroke="#000" stroke-width="4"/>
<text transform="translate(1387.1 1307.5) scale(1 1.04)"><tspan font-style="italic">p</tspan> = 0.33</text>
<line x1="1362.3" y1="1317.6" x2="1518.8" y2="1317.6" stroke="#000" stroke-width="4"/>
<text transform="translate(1364.1 1348.6) scale(1 1.04)"><tspan font-style="italic">p</tspan> = 0.29</text>
<line x1="1368.3" y1="1357.7" x2="1471" y2="1357.7" stroke="#000" stroke-width="4"/>
<text transform="translate(1350.8 1388.2) scale(1 1.04)"><tspan font-style="italic">p</tspan> = 0.66</text>
<line x1="1365.3" y1="1398.9" x2="1419.8" y2="1398.9" stroke="#000" stroke-width="4"/>
<text transform="translate(1605.9 1523.1) scale(1 1.04)"><tspan font-style="italic">p</tspan> = 0.0503</text>
<line x1="1598.1" y1="1532.5" x2="1755" y2="1532.5" stroke="#000" stroke-width="4"/>
<text transform="translate(1599.7 1564.2) scale(1 1.04)"><tspan font-style="italic">p</tspan> = 0.09</text>
<line x1="1603" y1="1573.9" x2="1705.6" y2="1573.9" stroke="#000" stroke-width="4"/>
<text transform="translate(1586.1 1604.2) scale(1 1.04)"><tspan font-style="italic">p</tspan> = 0.06</text>
<line x1="1600.1" y1="1613.7" x2="1653.7" y2="1613.7" stroke="#000" stroke-width="4"/>
<text transform="translate(1847.1 1309.8) scale(1 1.04)"><tspan font-style="italic">p</tspan> = 0.0463</text>
<line x1="1839.2" y1="1320.9" x2="1995.9" y2="1320.9" stroke="#000" stroke-width="4"/>
<text transform="translate(1840.9 1350.6) scale(1 1.04)"><tspan font-style="italic">p</tspan> = 0.98</text>
<line x1="1844.1" y1="1360.9" x2="1945.9" y2="1360.9" stroke="#000" stroke-width="4"/>
<text transform="translate(1827.3 1391.3) scale(1 1.04)"><tspan font-style="italic">p</tspan> = 0.83</text>
<line x1="1840.9" y1="1402" x2="1894.5" y2="1402" stroke="#000" stroke-width="4"/>
<g clip-path="url(#c1)"><g filter="url(#tex)">
<rect x="57" y="66" width="396.5" height="393" fill="#d9d9d9"/>
<ellipse cx="452" cy="365" rx="7" ry="35" fill="#a6a6a6" opacity="0.8" filter="url(#b6)"/>
<ellipse cx="443" cy="172" rx="3" ry="3" fill="#666" opacity="0.8" filter="url(#b2)"/>
<ellipse cx="331" cy="446" rx="3.5" ry="8" fill="#505050" opacity="0.9" filter="url(#b2)"/>
<ellipse cx="90" cy="314" rx="4" ry="5" fill="#444" opacity="0.9" filter="url(#b2)"/>
<path d="M251.8,80 C236.47,78.5 227.78,79.73 214,81.7 C200.22,83.67 182.18,85.63 169.1,91.8 C156.02,97.97 144.85,108.98 135.5,118.7 C126.15,128.42 118.98,140.2 113,150.1 C107.02,160 103.33,165.95 99.6,178.1 C95.87,190.25 92.62,209.35 90.6,223 C88.58,236.65 87.9,249.78 87.5,260 C87.1,270.22 86.78,275.37 88.2,284.3 C89.62,293.23 91.43,301.57 96,313.6 C100.57,325.63 107.47,343.5 115.6,356.5 C123.73,369.5 133.42,380.22 144.8,391.6 C156.18,402.98 169.25,416.33 183.9,424.8 C198.55,433.27 216.43,439.63 232.7,442.4 C248.97,445.17 265.88,443.35 281.5,441.4 C297.12,439.45 311.77,435.73 326.4,430.7 C341.03,425.67 356.28,419.67 369.3,411.2 C382.32,402.73 396.37,391.3 404.5,379.9 C412.63,368.5 413.88,355.48 418.1,342.8 C422.32,330.12 427.03,317.6 429.8,303.8 C432.57,290 434.77,273.47 434.7,260 C434.63,246.53 433.08,236.65 429.4,223 C425.72,209.35 420.08,192.12 412.6,178.1 C405.12,164.08 394.78,149.73 384.5,138.9 C374.22,128.07 363.98,121.13 350.9,113.1 C337.82,105.07 322.52,96.22 306,90.7 C289.48,85.18 267.13,81.5 251.8,80Z" fill="#6a6a6a" stroke="#4a4a4a" stroke-width="2.5"/>
<path d="M261,106.4 C245.65,106.58 218.95,109.35 202.7,114.2 C186.45,119.05 173.77,127.65 163.5,135.5 C153.23,143.35 147.27,152.33 141.1,161.3 C134.93,170.27 129.87,179.02 126.5,189.3 C123.13,199.58 121.98,212.05 120.9,223 C119.82,233.95 118.28,243.17 120,255 C121.72,266.83 126.42,280.33 131.2,294 C135.98,307.67 140.9,323.98 148.7,337 C156.5,350.02 165.63,361.03 178,372.1 C190.37,383.17 207.28,396.88 222.9,403.4 C238.52,409.92 255.43,410.88 271.7,411.2 C287.97,411.52 304.23,411.17 320.5,405.3 C336.77,399.43 357.27,388.03 369.3,376 C381.33,363.97 386.83,346.77 392.7,333.1 C398.57,319.43 401.95,307.02 404.5,294 C407.05,280.98 408.53,265.9 408,255 C407.47,244.1 405.22,239.55 401.3,228.6 C397.38,217.65 391.97,201.45 384.5,189.3 C377.03,177.15 365.83,164.3 356.5,155.7 C347.17,147.1 338.78,144.8 328.5,137.7 C318.22,130.6 306.05,118.32 294.8,113.1 C283.55,107.88 276.35,106.22 261,106.4Z" fill="#5a5a5a" stroke="#4c4c4c" stroke-width="6"/>
<g clip-path="url(#ci1)">
<ellipse cx="237" cy="272" rx="48" ry="55" fill="#8e8e8e" opacity="0.7" filter="url(#b20)"/>
<ellipse cx="258" cy="321" rx="42" ry="35" fill="#8e8e8e" opacity="0.65" filter="url(#b20)"/>
<ellipse cx="312" cy="213" rx="35" ry="35" fill="#8a8a8a" opacity="0.6" filter="url(#b20)"/>
<ellipse cx="213" cy="222" rx="25" ry="25" fill="#858585" opacity="0.5" filter="url(#b12)"/>
<ellipse cx="191" cy="267" rx="28" ry="42" fill="#383838" opacity="0.6" filter="url(#b12)"/>
<ellipse cx="291" cy="261" rx="26" ry="50" fill="#383838" opacity="0.6" filter="url(#b12)"/>
<ellipse cx="252" cy="192" rx="52" ry="20" fill="#404040" opacity="0.5" filter="url(#b12)"/>
<ellipse cx="241" cy="384" rx="75" ry="28" fill="#404040" opacity="0.5" filter="url(#b12)"/>
<ellipse cx="150" cy="243" rx="20" ry="58" fill="#444" opacity="0.45" filter="url(#b12)"/>
<ellipse cx="360" cy="304" rx="24" ry="48" fill="#444" opacity="0.45" filter="url(#b12)"/>
</g>
<path d="M261,106.4 C245.65,106.58 218.95,109.35 202.7,114.2 C186.45,119.05 173.77,127.65 163.5,135.5 C153.23,143.35 147.27,152.33 141.1,161.3 C134.93,170.27 129.87,179.02 126.5,189.3 C123.13,199.58 121.98,212.05 120.9,223 C119.82,233.95 118.28,243.17 120,255 C121.72,266.83 126.42,280.33 131.2,294 C135.98,307.67 140.9,323.98 148.7,337 C156.5,350.02 165.63,361.03 178,372.1 C190.37,383.17 207.28,396.88 222.9,403.4 C238.52,409.92 255.43,410.88 271.7,411.2 C287.97,411.52 304.23,411.17 320.5,405.3 C336.77,399.43 357.27,388.03 369.3,376 C381.33,363.97 386.83,346.77 392.7,333.1 C398.57,319.43 401.95,307.02 404.5,294 C407.05,280.98 408.53,265.9 408,255 C407.47,244.1 405.22,239.55 401.3,228.6 C397.38,217.65 391.97,201.45 384.5,189.3 C377.03,177.15 365.83,164.3 356.5,155.7 C347.17,147.1 338.78,144.8 328.5,137.7 C318.22,130.6 306.05,118.32 294.8,113.1 C283.55,107.88 276.35,106.22 261,106.4Z" fill="none" stroke="#a4a4a4" stroke-width="1.8"/>
</g></g>
<g clip-path="url(#c2)"><g filter="url(#tex)">
<rect x="480" y="66" width="394" height="393" fill="#d6d6d6"/>
<ellipse cx="481" cy="150" rx="12" ry="88" fill="#8a8a8a" opacity="1" filter="url(#b6)"/>
<ellipse cx="486" cy="100" rx="8" ry="30" fill="#9a9a9a" opacity="0.8" filter="url(#b6)"/>
<path d="M735,462 C760,447 795,437 830,430 C850,427 865,425 878,424 L878,462 Z" fill="#828282" filter="url(#b2)"/>
<ellipse cx="884" cy="185" rx="14" ry="48" fill="#7c7c7c" opacity="0.9" filter="url(#b6)"/>
<path d="M673.7,74.7 C654.33,75.18 631.1,79.72 615.6,84.4 C600.1,89.08 591.03,95.22 580.7,102.8 C570.37,110.38 561.35,119.88 553.6,129.9 C545.85,139.92 540.02,150.95 534.2,162.9 C528.38,174.85 522.88,188.7 518.7,201.6 C514.52,214.5 511.47,228.9 509.1,240.3 C506.73,251.7 505.63,257.87 504.5,270 C503.37,282.13 501.53,297.85 502.3,313.1 C503.07,328.35 504.75,346 509.1,361.5 C513.45,377 520.33,394.15 528.4,406.1 C536.47,418.05 546.2,426.42 557.5,433.2 C568.8,439.98 583.28,443.73 596.2,446.8 C609.12,449.87 622.08,450.95 635,451.6 C647.92,452.25 660.78,452.15 673.7,450.7 C686.62,449.25 697.97,447.75 712.5,442.9 C727.03,438.05 746.38,430.32 760.9,421.6 C775.42,412.88 788.3,402.87 799.6,390.6 C810.9,378.33 821.27,362.53 828.7,348 C836.13,333.47 840.23,317.23 844.2,303.4 C848.17,289.57 851.53,277.12 852.5,265 C853.47,252.88 852.35,244.5 850,230.7 C847.65,216.9 844.22,197.38 838.4,182.2 C832.58,167.02 824.78,152.52 815.1,139.6 C805.42,126.68 794.18,114.38 780.3,104.7 C766.42,95.02 749.57,86.5 731.8,81.5 C714.03,76.5 693.07,74.22 673.7,74.7Z" fill="#6a6a6a" stroke="#4e4e4e" stroke-width="2.5"/>
<path d="M673.7,98 C655.95,98 638.85,100.35 625.3,104.7 C611.75,109.05 602.08,115.38 592.4,124.1 C582.72,132.82 574.63,145.7 567.2,157 C559.77,168.3 553.62,179.62 547.8,191.9 C541.98,204.18 536.1,218.52 532.3,230.7 C528.5,242.88 526.45,251.27 525,265 C523.55,278.73 522.38,296.68 523.6,313.1 C524.82,329.52 527.3,348.65 532.3,363.5 C537.3,378.35 544.57,391.87 553.6,402.2 C562.63,412.53 572.93,420 586.5,425.5 C600.07,431 618.85,434.57 635,435.2 C651.15,435.83 667.27,433.18 683.4,429.3 C699.53,425.42 717.27,419 731.8,411.9 C746.33,404.8 758.32,397.35 770.6,386.7 C782.88,376.05 796.13,361.88 805.5,348 C814.87,334.12 821.75,317.73 826.8,303.4 C831.85,289.07 834.52,272.52 835.8,262 C837.08,251.48 836,250.37 834.5,240.3 C833,230.23 831,214.5 826.8,201.6 C822.6,188.7 817.05,174.85 809.3,162.9 C801.55,150.95 793.22,139.6 780.3,129.9 C767.38,120.2 749.57,110.02 731.8,104.7 C714.03,99.38 691.45,98 673.7,98Z" fill="#5e5e5e" stroke="#505050" stroke-width="5"/>
<g clip-path="url(#ci2)">
<ellipse cx="680" cy="305" rx="45" ry="50" fill="#b0b0b0" opacity="0.9" filter="url(#b20)"/>
<ellipse cx="672" cy="330" rx="30" ry="28" fill="#a8a8a8" opacity="0.6" filter="url(#b12)"/>
<ellipse cx="662" cy="222" rx="22" ry="22" fill="#959595" opacity="0.5" filter="url(#b12)"/>
<ellipse cx="628" cy="250" rx="18" ry="45" fill="#383838" opacity="0.6" filter="url(#b12)"/>
<ellipse cx="700" cy="150" rx="60" ry="35" fill="#4a4a4a" opacity="0.35" filter="url(#b20)"/>
<ellipse cx="770" cy="330" rx="45" ry="60" fill="#4a4a4a" opacity="0.3" filter="url(#b20)"/>
<ellipse cx="577" cy="400" rx="12" ry="14" fill="#8c8c8c" opacity="0.5" filter="url(#b6)"/>
</g>
<path d="M673.7,98 C655.95,98 638.85,100.35 625.3,104.7 C611.75,109.05 602.08,115.38 592.4,124.1 C582.72,132.82 574.63,145.7 567.2,157 C559.77,168.3 553.62,179.62 547.8,191.9 C541.98,204.18 536.1,218.52 532.3,230.7 C528.5,242.88 526.45,251.27 525,265 C523.55,278.73 522.38,296.68 523.6,313.1 C524.82,329.52 527.3,348.65 532.3,363.5 C537.3,378.35 544.57,391.87 553.6,402.2 C562.63,412.53 572.93,420 586.5,425.5 C600.07,431 618.85,434.57 635,435.2 C651.15,435.83 667.27,433.18 683.4,429.3 C699.53,425.42 717.27,419 731.8,411.9 C746.33,404.8 758.32,397.35 770.6,386.7 C782.88,376.05 796.13,361.88 805.5,348 C814.87,334.12 821.75,317.73 826.8,303.4 C831.85,289.07 834.52,272.52 835.8,262 C837.08,251.48 836,250.37 834.5,240.3 C833,230.23 831,214.5 826.8,201.6 C822.6,188.7 817.05,174.85 809.3,162.9 C801.55,150.95 793.22,139.6 780.3,129.9 C767.38,120.2 749.57,110.02 731.8,104.7 C714.03,99.38 691.45,98 673.7,98Z" fill="none" stroke="#a8a8a8" stroke-width="1.8"/>
<ellipse cx="524.6" cy="106.7" rx="6" ry="5" fill="#1c1c1c" opacity="0.9" filter="url(#b2)"/>
<ellipse cx="526.96" cy="110.57" rx="2.7" ry="2.25" fill="#333" opacity="0.7" filter="url(#b2)"/>
<ellipse cx="530.27" cy="113.78" rx="2.7" ry="2.25" fill="#333" opacity="0.7" filter="url(#b2)"/>
<ellipse cx="529.21" cy="113.46" rx="2.7" ry="2.25" fill="#333" opacity="0.7" filter="url(#b2)"/>
<ellipse cx="540" cy="104" rx="4" ry="4" fill="#1c1c1c" opacity="0.9" filter="url(#b2)"/>
<ellipse cx="533.97" cy="103.56" rx="1.8" ry="1.8" fill="#333" opacity="0.7" filter="url(#b2)"/>
<ellipse cx="545.67" cy="105.91" rx="1.8" ry="1.8" fill="#333" opacity="0.7" filter="url(#b2)"/>
<ellipse cx="545.13" cy="99.05" rx="1.8" ry="1.8" fill="#333" opacity="0.7" filter="url(#b2)"/>
<ellipse cx="557.5" cy="102.8" rx="7" ry="5" fill="#1c1c1c" opacity="0.9" filter="url(#b2)"/>
<ellipse cx="556.81" cy="98.75" rx="3.15" ry="2.25" fill="#333" opacity="0.7" filter="url(#b2)"/>
<ellipse cx="558.48" cy="103.98" rx="3.15" ry="2.25" fill="#333" opacity="0.7" filter="url(#b2)"/>
<ellipse cx="546.59" cy="98.27" rx="3.15" ry="2.25" fill="#333" opacity="0.7" filter="url(#b2)"/>
<ellipse cx="569.1" cy="99.9" rx="5" ry="4" fill="#1c1c1c" opacity="0.9" filter="url(#b2)"/>
<ellipse cx="565.57" cy="105.23" rx="2.25" ry="1.8" fill="#333" opacity="0.7" filter="url(#b2)"/>
<ellipse cx="573.35" cy="95.54" rx="2.25" ry="1.8" fill="#333" opacity="0.7" filter="url(#b2)"/>
<ellipse cx="573.85" cy="95.28" rx="2.25" ry="1.8" fill="#333" opacity="0.7" filter="url(#b2)"/>
<ellipse cx="596.2" cy="87.3" rx="2" ry="3" fill="#1c1c1c" opacity="0.9" filter="url(#b2)"/>
<ellipse cx="596.95" cy="83.72" rx="0.9" ry="1.35" fill="#333" opacity="0.7" filter="url(#b2)"/>
<ellipse cx="593.01" cy="90.87" rx="0.9" ry="1.35" fill="#333" opacity="0.7" filter="url(#b2)"/>
<ellipse cx="594.34" cy="84.57" rx="0.9" ry="1.35" fill="#333" opacity="0.7" filter="url(#b2)"/>
<ellipse cx="499.4" cy="133.8" rx="6" ry="5" fill="#1c1c1c" opacity="0.9" filter="url(#b2)"/>
<ellipse cx="508.66" cy="139.76" rx="2.7" ry="2.25" fill="#333" opacity="0.7" filter="url(#b2)"/>
<ellipse cx="495.35" cy="141.18" rx="2.7" ry="2.25" fill="#333" opacity="0.7" filter="url(#b2)"/>
<ellipse cx="500.15" cy="136.65" rx="2.7" ry="2.25" fill="#333" opacity="0.7" filter="url(#b2)"/>
<ellipse cx="511" cy="135.7" rx="5" ry="4" fill="#1c1c1c" opacity="0.9" filter="url(#b2)"/>
<ellipse cx="506.28" cy="141.34" rx="2.25" ry="1.8" fill="#333" opacity="0.7" filter="url(#b2)"/>
<ellipse cx="514.05" cy="141.67" rx="2.25" ry="1.8" fill="#333" opacity="0.7" filter="url(#b2)"/>
<ellipse cx="517.3" cy="133.12" rx="2.25" ry="1.8" fill="#333" opacity="0.7" filter="url(#b2)"/>
<ellipse cx="520.7" cy="132.8" rx="5" ry="4" fill="#1c1c1c" opacity="0.9" filter="url(#b2)"/>
<ellipse cx="518.48" cy="128.52" rx="2.25" ry="1.8" fill="#333" opacity="0.7" filter="url(#b2)"/>
<ellipse cx="515.03" cy="127.23" rx="2.25" ry="1.8" fill="#333" opacity="0.7" filter="url(#b2)"/>
<ellipse cx="517.52" cy="134.12" rx="2.25" ry="1.8" fill="#333" opacity="0.7" filter="url(#b2)"/>
<ellipse cx="514.9" cy="147.4" rx="4" ry="6" fill="#1c1c1c" opacity="0.9" filter="url(#b2)"/>
<ellipse cx="508.54" cy="150.82" rx="1.8" ry="2.7" fill="#333" opacity="0.7" filter="url(#b2)"/>
<ellipse cx="512.83" cy="143.75" rx="1.8" ry="2.7" fill="#333" opacity="0.7" filter="url(#b2)"/>
<ellipse cx="518.98" cy="147.03" rx="1.8" ry="2.7" fill="#333" opacity="0.7" filter="url(#b2)"/>
<ellipse cx="516.8" cy="182.2" rx="3" ry="4" fill="#1c1c1c" opacity="0.9" filter="url(#b2)"/>
<ellipse cx="515.03" cy="181.96" rx="1.35" ry="1.8" fill="#333" opacity="0.7" filter="url(#b2)"/>
<ellipse cx="518.76" cy="176.53" rx="1.35" ry="1.8" fill="#333" opacity="0.7" filter="url(#b2)"/>
<ellipse cx="521.36" cy="176.09" rx="1.35" ry="1.8" fill="#333" opacity="0.7" filter="url(#b2)"/>
<ellipse cx="483.9" cy="205.5" rx="3" ry="4" fill="#1c1c1c" opacity="0.9" filter="url(#b2)"/>
<ellipse cx="486.3" cy="209.91" rx="1.35" ry="1.8" fill="#333" opacity="0.7" filter="url(#b2)"/>
<ellipse cx="479.27" cy="209.18" rx="1.35" ry="1.8" fill="#333" opacity="0.7" filter="url(#b2)"/>
<ellipse cx="482.62" cy="206.51" rx="1.35" ry="1.8" fill="#333" opacity="0.7" filter="url(#b2)"/>
<ellipse cx="495.5" cy="280.2" rx="5" ry="6" fill="#1c1c1c" opacity="0.9" filter="url(#b2)"/>
<ellipse cx="487.65" cy="271.5" rx="2.25" ry="2.7" fill="#333" opacity="0.7" filter="url(#b2)"/>
<ellipse cx="490.39" cy="288.94" rx="2.25" ry="2.7" fill="#333" opacity="0.7" filter="url(#b2)"/>
<ellipse cx="490.64" cy="285.11" rx="2.25" ry="2.7" fill="#333" opacity="0.7" filter="url(#b2)"/>
<ellipse cx="495.5" cy="291.8" rx="5" ry="6" fill="#1c1c1c" opacity="0.9" filter="url(#b2)"/>
<ellipse cx="502.37" cy="300.29" rx="2.25" ry="2.7" fill="#333" opacity="0.7" filter="url(#b2)"/>
<ellipse cx="493.01" cy="289.01" rx="2.25" ry="2.7" fill="#333" opacity="0.7" filter="url(#b2)"/>
<ellipse cx="495.9" cy="297.09" rx="2.25" ry="2.7" fill="#333" opacity="0.7" filter="url(#b2)"/>
<ellipse cx="493" cy="300" rx="3" ry="5" fill="#1c1c1c" opacity="0.9" filter="url(#b2)"/>
<ellipse cx="489.24" cy="303.97" rx="1.35" ry="2.25" fill="#333" opacity="0.7" filter="url(#b2)"/>
<ellipse cx="495.85" cy="305.76" rx="1.35" ry="2.25" fill="#333" opacity="0.7" filter="url(#b2)"/>
<ellipse cx="488.55" cy="307.13" rx="1.35" ry="2.25" fill="#333" opacity="0.7" filter="url(#b2)"/>
<ellipse cx="496" cy="265" rx="3" ry="6" fill="#1c1c1c" opacity="0.9" filter="url(#b2)"/>
<ellipse cx="492.08" cy="261.94" rx="1.35" ry="2.7" fill="#333" opacity="0.7" filter="url(#b2)"/>
<ellipse cx="497.06" cy="273.03" rx="1.35" ry="2.7" fill="#333" opacity="0.7" filter="url(#b2)"/>
<ellipse cx="494.46" cy="273.14" rx="1.35" ry="2.7" fill="#333" opacity="0.7" filter="url(#b2)"/>
<ellipse cx="487.7" cy="371.2" rx="6" ry="6" fill="#1c1c1c" opacity="0.9" filter="url(#b2)"/>
<ellipse cx="488.57" cy="367.6" rx="2.7" ry="2.7" fill="#333" opacity="0.7" filter="url(#b2)"/>
<ellipse cx="484.18" cy="365.01" rx="2.7" ry="2.7" fill="#333" opacity="0.7" filter="url(#b2)"/>
<ellipse cx="479.6" cy="364.46" rx="2.7" ry="2.7" fill="#333" opacity="0.7" filter="url(#b2)"/>
<ellipse cx="491.6" cy="379" rx="5" ry="5" fill="#1c1c1c" opacity="0.9" filter="url(#b2)"/>
<ellipse cx="494.63" cy="386.95" rx="2.25" ry="2.25" fill="#333" opacity="0.7" filter="url(#b2)"/>
<ellipse cx="486.18" cy="371.78" rx="2.25" ry="2.25" fill="#333" opacity="0.7" filter="url(#b2)"/>
<ellipse cx="499.39" cy="379.54" rx="2.25" ry="2.25" fill="#333" opacity="0.7" filter="url(#b2)"/>
<ellipse cx="499.4" cy="388.7" rx="5" ry="4" fill="#1c1c1c" opacity="0.9" filter="url(#b2)"/>
<ellipse cx="497.89" cy="385.34" rx="2.25" ry="1.8" fill="#333" opacity="0.7" filter="url(#b2)"/>
<ellipse cx="500.9" cy="392.88" rx="2.25" ry="1.8" fill="#333" opacity="0.7" filter="url(#b2)"/>
<ellipse cx="498.69" cy="387.7" rx="2.25" ry="1.8" fill="#333" opacity="0.7" filter="url(#b2)"/>
<ellipse cx="509" cy="388.7" rx="5" ry="4" fill="#1c1c1c" opacity="0.9" filter="url(#b2)"/>
<ellipse cx="501.89" cy="394.03" rx="2.25" ry="1.8" fill="#333" opacity="0.7" filter="url(#b2)"/>
<ellipse cx="501.52" cy="388.62" rx="2.25" ry="1.8" fill="#333" opacity="0.7" filter="url(#b2)"/>
<ellipse cx="514.41" cy="383.97" rx="2.25" ry="1.8" fill="#333" opacity="0.7" filter="url(#b2)"/>
<ellipse cx="484" cy="365" rx="4" ry="4" fill="#1c1c1c" opacity="0.9" filter="url(#b2)"/>
<ellipse cx="486.97" cy="370.76" rx="1.8" ry="1.8" fill="#333" opacity="0.7" filter="url(#b2)"/>
<ellipse cx="485.67" cy="368.69" rx="1.8" ry="1.8" fill="#333" opacity="0.7" filter="url(#b2)"/>
<ellipse cx="478.96" cy="364.16" rx="1.8" ry="1.8" fill="#333" opacity="0.7" filter="url(#b2)"/>
<ellipse cx="848" cy="386.7" rx="6" ry="5" fill="#1c1c1c" opacity="0.9" filter="url(#b2)"/>
<ellipse cx="841.27" cy="392.22" rx="2.7" ry="2.25" fill="#333" opacity="0.7" filter="url(#b2)"/>
<ellipse cx="844.06" cy="385.95" rx="2.7" ry="2.25" fill="#333" opacity="0.7" filter="url(#b2)"/>
<ellipse cx="857.59" cy="392.34" rx="2.7" ry="2.25" fill="#333" opacity="0.7" filter="url(#b2)"/>
<ellipse cx="850" cy="406.1" rx="6" ry="6" fill="#1c1c1c" opacity="0.9" filter="url(#b2)"/>
<ellipse cx="859.14" cy="405.21" rx="2.7" ry="2.7" fill="#333" opacity="0.7" filter="url(#b2)"/>
<ellipse cx="849.77" cy="410.51" rx="2.7" ry="2.7" fill="#333" opacity="0.7" filter="url(#b2)"/>
<ellipse cx="849.6" cy="402.09" rx="2.7" ry="2.7" fill="#333" opacity="0.7" filter="url(#b2)"/>
<ellipse cx="855.8" cy="415.8" rx="5" ry="5" fill="#1c1c1c" opacity="0.9" filter="url(#b2)"/>
<ellipse cx="854.26" cy="410.14" rx="2.25" ry="2.25" fill="#333" opacity="0.7" filter="url(#b2)"/>
<ellipse cx="853.83" cy="423.61" rx="2.25" ry="2.25" fill="#333" opacity="0.7" filter="url(#b2)"/>
<ellipse cx="863.16" cy="417.83" rx="2.25" ry="2.25" fill="#333" opacity="0.7" filter="url(#b2)"/>
<ellipse cx="852" cy="396" rx="4" ry="4" fill="#1c1c1c" opacity="0.9" filter="url(#b2)"/>
<ellipse cx="851.99" cy="393.93" rx="1.8" ry="1.8" fill="#333" opacity="0.7" filter="url(#b2)"/>
<ellipse cx="846.74" cy="393.09" rx="1.8" ry="1.8" fill="#333" opacity="0.7" filter="url(#b2)"/>
<ellipse cx="855.61" cy="400.7" rx="1.8" ry="1.8" fill="#333" opacity="0.7" filter="url(#b2)"/>
<ellipse cx="856" cy="425" rx="2" ry="5" fill="#1c1c1c" opacity="0.9" filter="url(#b2)"/>
<ellipse cx="855.11" cy="429.58" rx="0.9" ry="2.25" fill="#333" opacity="0.7" filter="url(#b2)"/>
<ellipse cx="857.76" cy="428.11" rx="0.9" ry="2.25" fill="#333" opacity="0.7" filter="url(#b2)"/>
<ellipse cx="857.05" cy="429.15" rx="0.9" ry="2.25" fill="#333" opacity="0.7" filter="url(#b2)"/>
</g></g>
<g clip-path="url(#c3)"><g filter="url(#tex)">
<rect x="899" y="66" width="397" height="393" fill="#bfbfbf"/>
<path d="M1113.7,83.6 C1094.18,82.95 1071.47,88.43 1055.2,93.3 C1038.93,98.17 1026.85,104.33 1016.1,112.8 C1005.35,121.27 997.85,133.68 990.7,144.1 C983.55,154.52 978.07,163.92 973.2,175.3 C968.33,186.68 964.75,199.72 961.5,212.4 C958.25,225.08 955.33,239.42 953.7,251.4 C952.07,263.38 950.08,272.32 951.7,284.3 C953.32,296.28 957.55,310.93 963.4,323.3 C969.25,335.67 978.02,348.08 986.8,358.5 C995.58,368.92 1004.7,377.67 1016.1,385.8 C1027.5,393.93 1040.55,401.77 1055.2,407.3 C1069.85,412.83 1089.37,416.73 1104,419 C1118.63,421.27 1130,421.88 1143,420.9 C1156,419.92 1168.98,417.33 1182,413.1 C1195.02,408.87 1209.7,402.33 1221.1,395.5 C1232.5,388.67 1242.27,381.85 1250.4,372.1 C1258.53,362.35 1265.13,349.85 1269.9,337 C1274.67,324.15 1277.98,308.67 1279,295 C1280.02,281.33 1278.83,269.17 1276,255 C1273.17,240.83 1267.9,225.23 1262,210 C1256.1,194.77 1249.05,177.83 1240.6,163.6 C1232.15,149.37 1222.68,135.67 1211.3,124.6 C1199.92,113.53 1188.57,104.03 1172.3,97.2 C1156.03,90.37 1133.22,84.25 1113.7,83.6Z" fill="#626262" stroke="#4a4a4a" stroke-width="2.5"/>
<path d="M1113.7,110 C1092.13,110.43 1053.17,113.72 1035.6,124.6 C1018.03,135.48 1015.78,162.3 1008.3,175.3 C1000.82,188.3 995.25,191.53 990.7,202.6 C986.15,213.67 983.27,230.47 981,241.7 C978.73,252.93 977.75,262.9 977.1,270 C976.45,277.1 974.83,276.07 977.1,284.3 C979.37,292.53 985.98,310.3 990.7,319.4 C995.42,328.5 998.02,331.8 1005.4,338.9 C1012.78,346 1024.1,354.83 1035,362 C1045.9,369.17 1060.93,376.97 1070.8,381.9 C1080.67,386.83 1083.8,389.48 1094.2,391.6 C1104.6,393.72 1120.18,395.25 1133.2,394.6 C1146.22,393.95 1159.28,391.45 1172.3,387.7 C1185.32,383.95 1199.92,379.58 1211.3,372.1 C1222.68,364.62 1233.12,354.18 1240.6,342.8 C1248.08,331.42 1253.47,317.27 1256.2,303.8 C1258.93,290.33 1258.37,274.63 1257,262 C1255.63,249.37 1252.37,239.52 1248,228 C1243.63,216.48 1237.57,204.62 1230.8,192.9 C1224.03,181.18 1218.37,169.52 1207.4,157.7 C1196.43,145.88 1180.62,129.95 1165,122 C1149.38,114.05 1135.27,109.57 1113.7,110Z" fill="#585858"/>
<g clip-path="url(#ci3)">
<ellipse cx="1058" cy="218" rx="48" ry="48" fill="#303030" opacity="0.75" filter="url(#b20)"/>
<ellipse cx="1181" cy="276" rx="34" ry="44" fill="#303030" opacity="0.7" filter="url(#b20)"/>
<ellipse cx="1107" cy="370" rx="60" ry="18" fill="#404040" opacity="0.5" filter="url(#b12)"/>
<ellipse cx="1025" cy="168" rx="30" ry="30" fill="#404040" opacity="0.4" filter="url(#b12)"/>
<ellipse cx="1125" cy="205" rx="14" ry="88" fill="#8e8e8e" opacity="0.65" filter="url(#b12)" transform="rotate(-12 1125 205)"/>
<ellipse cx="1052" cy="305" rx="40" ry="42" fill="#888888" opacity="0.6" filter="url(#b20)"/>
<ellipse cx="1108" cy="140" rx="22" ry="30" fill="#868686" opacity="0.6" filter="url(#b12)"/>
<ellipse cx="1142" cy="204" rx="14" ry="10" fill="#9a9a9a" opacity="0.6" filter="url(#b6)"/>
</g>
<path d="M1030,150 C1026.38,154.22 1014.85,166.53 1008.3,175.3 C1001.75,184.07 995.25,191.53 990.7,202.6 C986.15,213.67 983.27,230.47 981,241.7 C978.73,252.93 977.75,262.9 977.1,270 C976.45,277.1 974.83,276.07 977.1,284.3 C979.37,292.53 985.98,310.3 990.7,319.4 C995.42,328.5 1002.95,335.65 1005.4,338.9" fill="none" stroke="#9c9c9c" stroke-width="1.6"/>
<path d="M1068,380 C1072.37,381.93 1083.33,389.17 1094.2,391.6 C1105.07,394.03 1120.18,395.25 1133.2,394.6 C1146.22,393.95 1159.28,391.45 1172.3,387.7 C1185.32,383.95 1199.92,379.58 1211.3,372.1 C1222.68,364.62 1233.12,354.18 1240.6,342.8 C1248.08,331.42 1253.47,317.27 1256.2,303.8 C1258.93,290.33 1258.37,274.63 1257,262 C1255.63,249.37 1252.37,239.52 1248,228 C1243.63,216.48 1237.57,204.62 1230.8,192.9 C1224.03,181.18 1211.3,163.57 1207.4,157.7" fill="none" stroke="#9c9c9c" stroke-width="1.6"/>
<ellipse cx="1104" cy="124" rx="9" ry="10" fill="#d0d0d0" opacity="0.7" filter="url(#b6)"/>
<circle cx="1104" cy="123.8" r="6" fill="#f4f4f4"/>
<ellipse cx="1182" cy="432" rx="10" ry="14" fill="#000" opacity="0.95" filter="url(#b2)"/>
<ellipse cx="1172" cy="424" rx="9" ry="6" fill="#000" opacity="0.95" filter="url(#b2)"/>
</g></g>
<rect x="56.9" y="457.4" width="366.3" height="28.7" fill="#000"/>
<rect x="69" y="469.9" width="237.3" height="4.6" fill="#fff"/>
<rect x="69" y="463" width="4.7" height="17.7" fill="#fff"/>
<rect x="301.6" y="463" width="4.7" height="17.7" fill="#fff"/>
<text transform="translate(317 481.2) scale(1 1.04)" font-size="27.8" font-weight="bold" fill="#fff">500 nm</text>
<text transform="translate(263.2 55.5) scale(1 1.04)" text-anchor="middle">WT</text>
<text transform="translate(677.4 55.5) scale(1 1.04)" text-anchor="middle"><tspan font-style="italic">mgrA</tspan>C12S</text>
<text transform="translate(1098.4 55.5) scale(1 1.04)" text-anchor="middle">Δ<tspan font-style="italic">nos</tspan></text></svg></body></html>
